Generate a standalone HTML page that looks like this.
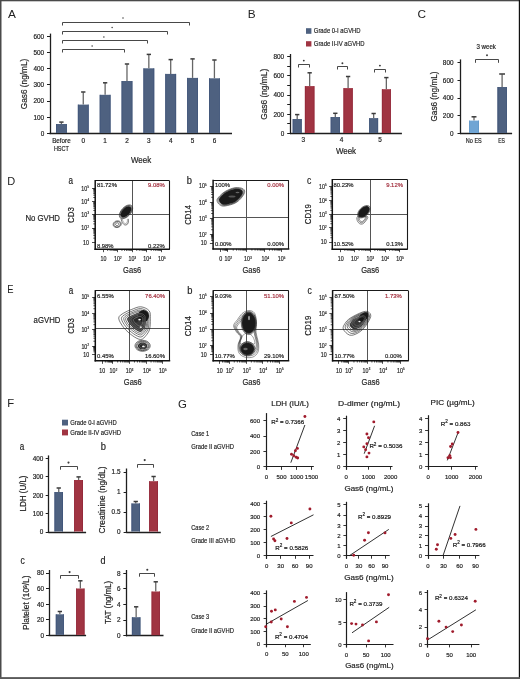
<!DOCTYPE html><html><head><meta charset="utf-8"><style>html,body{margin:0;padding:0;background:#fff;}svg{display:block;will-change:transform;font-family:"Liberation Sans", sans-serif;} text{stroke:currentColor;stroke-width:0.18px;}</style></head><body>
<svg width="520" height="679" viewBox="0 0 520 679">
<rect x="0" y="0" width="520" height="679" fill="#fff"/>
<text x="7.9" y="17.8" font-size="11.8" fill="#222" color="#222" style="stroke-width:0">A</text>
<line x1="50.5" y1="33.6" x2="50.5" y2="134.1" stroke="#1e1e1e" stroke-width="1.3"/>
<line x1="49.4" y1="133.5" x2="232" y2="133.5" stroke="#1e1e1e" stroke-width="1.3"/>
<line x1="47" y1="133.5" x2="50" y2="133.5" stroke="#1e1e1e" stroke-width="1"/>
<text x="44.2" y="135.8" font-size="6.4" fill="#222" color="#222" text-anchor="end">0</text>
<line x1="47" y1="117.5" x2="50" y2="117.5" stroke="#1e1e1e" stroke-width="1"/>
<text x="44.2" y="119.63" font-size="6.4" fill="#222" color="#222" text-anchor="end">100</text>
<line x1="47" y1="101.5" x2="50" y2="101.5" stroke="#1e1e1e" stroke-width="1"/>
<text x="44.2" y="103.47" font-size="6.4" fill="#222" color="#222" text-anchor="end">200</text>
<line x1="47" y1="84.5" x2="50" y2="84.5" stroke="#1e1e1e" stroke-width="1"/>
<text x="44.2" y="87.3" font-size="6.4" fill="#222" color="#222" text-anchor="end">300</text>
<line x1="47" y1="68.5" x2="50" y2="68.5" stroke="#1e1e1e" stroke-width="1"/>
<text x="44.2" y="71.13" font-size="6.4" fill="#222" color="#222" text-anchor="end">400</text>
<line x1="47" y1="52.5" x2="50" y2="52.5" stroke="#1e1e1e" stroke-width="1"/>
<text x="44.2" y="54.96" font-size="6.4" fill="#222" color="#222" text-anchor="end">500</text>
<line x1="47" y1="36.5" x2="50" y2="36.5" stroke="#1e1e1e" stroke-width="1"/>
<text x="44.2" y="38.8" font-size="6.4" fill="#222" color="#222" text-anchor="end">600</text>
<text transform="translate(27 84) rotate(-90)" font-size="8.4" fill="#222" color="#222" text-anchor="middle" textLength="50.5" lengthAdjust="spacingAndGlyphs">Gas6 (ng/mL)</text>
<line x1="61.4" y1="124" x2="61.4" y2="122.3" stroke="#666" stroke-width="1.3"/>
<line x1="59.25" y1="122.1" x2="63.55" y2="122.1" stroke="#3a3a3a" stroke-width="1.5"/>
<rect x="56" y="124" width="10.8" height="9" fill="#4e6180"/>
<rect x="56" y="124" width="0.8" height="9" fill="#40557a"/>
<rect x="66" y="124" width="0.8" height="9" fill="#40557a"/>
<line x1="83.26" y1="104.6" x2="83.26" y2="92.2" stroke="#666" stroke-width="1.3"/>
<line x1="81.11" y1="92" x2="85.41" y2="92" stroke="#3a3a3a" stroke-width="1.5"/>
<rect x="77.86" y="104.6" width="10.8" height="28.4" fill="#4e6180"/>
<rect x="77.86" y="104.6" width="0.8" height="28.4" fill="#40557a"/>
<rect x="87.86" y="104.6" width="0.8" height="28.4" fill="#40557a"/>
<line x1="105.12" y1="94.8" x2="105.12" y2="83" stroke="#666" stroke-width="1.3"/>
<line x1="102.97" y1="82.8" x2="107.27" y2="82.8" stroke="#3a3a3a" stroke-width="1.5"/>
<rect x="99.72" y="94.8" width="10.8" height="38.2" fill="#4e6180"/>
<rect x="99.72" y="94.8" width="0.8" height="38.2" fill="#40557a"/>
<rect x="109.72" y="94.8" width="0.8" height="38.2" fill="#40557a"/>
<line x1="126.98" y1="81" x2="126.98" y2="64.2" stroke="#666" stroke-width="1.3"/>
<line x1="124.83" y1="64" x2="129.13" y2="64" stroke="#3a3a3a" stroke-width="1.5"/>
<rect x="121.58" y="81" width="10.8" height="52" fill="#4e6180"/>
<rect x="121.58" y="81" width="0.8" height="52" fill="#40557a"/>
<rect x="131.58" y="81" width="0.8" height="52" fill="#40557a"/>
<line x1="148.84" y1="68.3" x2="148.84" y2="54.6" stroke="#666" stroke-width="1.3"/>
<line x1="146.69" y1="54.4" x2="150.99" y2="54.4" stroke="#3a3a3a" stroke-width="1.5"/>
<rect x="143.44" y="68.3" width="10.8" height="64.7" fill="#4e6180"/>
<rect x="143.44" y="68.3" width="0.8" height="64.7" fill="#40557a"/>
<rect x="153.44" y="68.3" width="0.8" height="64.7" fill="#40557a"/>
<line x1="170.7" y1="73.9" x2="170.7" y2="59.8" stroke="#666" stroke-width="1.3"/>
<line x1="168.55" y1="59.6" x2="172.85" y2="59.6" stroke="#3a3a3a" stroke-width="1.5"/>
<rect x="165.3" y="73.9" width="10.8" height="59.1" fill="#4e6180"/>
<rect x="165.3" y="73.9" width="0.8" height="59.1" fill="#40557a"/>
<rect x="175.3" y="73.9" width="0.8" height="59.1" fill="#40557a"/>
<line x1="192.56" y1="77.9" x2="192.56" y2="59.1" stroke="#666" stroke-width="1.3"/>
<line x1="190.41" y1="58.9" x2="194.71" y2="58.9" stroke="#3a3a3a" stroke-width="1.5"/>
<rect x="187.16" y="77.9" width="10.8" height="55.1" fill="#4e6180"/>
<rect x="187.16" y="77.9" width="0.8" height="55.1" fill="#40557a"/>
<rect x="197.16" y="77.9" width="0.8" height="55.1" fill="#40557a"/>
<line x1="214.42" y1="78.3" x2="214.42" y2="60.2" stroke="#666" stroke-width="1.3"/>
<line x1="212.27" y1="60" x2="216.57" y2="60" stroke="#3a3a3a" stroke-width="1.5"/>
<rect x="209.02" y="78.3" width="10.8" height="54.7" fill="#4e6180"/>
<rect x="209.02" y="78.3" width="0.8" height="54.7" fill="#40557a"/>
<rect x="219.02" y="78.3" width="0.8" height="54.7" fill="#40557a"/>
<text x="61.4" y="143.1" font-size="6.4" fill="#222" color="#222" text-anchor="middle" textLength="18.5" lengthAdjust="spacingAndGlyphs">Before</text>
<text x="61.4" y="151.3" font-size="6.4" fill="#222" color="#222" text-anchor="middle" textLength="15" lengthAdjust="spacingAndGlyphs">HSCT</text>
<text x="83.26" y="143.1" font-size="6.4" fill="#222" color="#222" text-anchor="middle">0</text>
<text x="105.12" y="143.1" font-size="6.4" fill="#222" color="#222" text-anchor="middle">1</text>
<text x="126.98" y="143.1" font-size="6.4" fill="#222" color="#222" text-anchor="middle">2</text>
<text x="148.84" y="143.1" font-size="6.4" fill="#222" color="#222" text-anchor="middle">3</text>
<text x="170.7" y="143.1" font-size="6.4" fill="#222" color="#222" text-anchor="middle">4</text>
<text x="192.56" y="143.1" font-size="6.4" fill="#222" color="#222" text-anchor="middle">5</text>
<text x="214.42" y="143.1" font-size="6.4" fill="#222" color="#222" text-anchor="middle">6</text>
<text x="141.1" y="162.9" font-size="8.9" fill="#222" color="#222" text-anchor="middle" textLength="20.2" lengthAdjust="spacingAndGlyphs">Week</text>
<path d="M62.5 25.5V22.5H189.5V25.5" stroke="#333" stroke-width="0.9" fill="none"/>
<path d="M62.5 34.5V31.5H167.5V34.5" stroke="#333" stroke-width="0.9" fill="none"/>
<path d="M62.5 43.5V40.5H147.5V43.5" stroke="#333" stroke-width="0.9" fill="none"/>
<path d="M62.5 52.5V49.5H124.5V52.5" stroke="#333" stroke-width="0.9" fill="none"/>
<circle cx="123" cy="17.9" r="0.75" fill="#3a3a3a"/>
<circle cx="112.1" cy="27.6" r="0.75" fill="#3a3a3a"/>
<circle cx="103.9" cy="36.9" r="0.75" fill="#3a3a3a"/>
<circle cx="92.1" cy="45.9" r="0.75" fill="#3a3a3a"/>
<text x="247.7" y="17.8" font-size="11.8" fill="#222" color="#222" style="stroke-width:0">B</text>
<rect x="306" y="28.2" width="5.4" height="5.6" fill="#4e6180"/>
<rect x="306" y="41.2" width="5.4" height="5.3" fill="#a03442"/>
<text x="313.8" y="33.4" font-size="7" fill="#222" color="#222" textLength="46.8" lengthAdjust="spacingAndGlyphs">Grade 0-I aGVHD</text>
<text x="313.8" y="46.4" font-size="7" fill="#222" color="#222" textLength="50.8" lengthAdjust="spacingAndGlyphs">Grade II-IV aGVHD</text>
<line x1="290.5" y1="54" x2="290.5" y2="134.1" stroke="#1e1e1e" stroke-width="1.3"/>
<line x1="290" y1="133.5" x2="401.9" y2="133.5" stroke="#1e1e1e" stroke-width="1.3"/>
<line x1="287.2" y1="133.5" x2="290.6" y2="133.5" stroke="#1e1e1e" stroke-width="1"/>
<text x="284.2" y="135.8" font-size="6.4" fill="#222" color="#222" text-anchor="end">0</text>
<line x1="287.2" y1="123.5" x2="290.6" y2="123.5" stroke="#1e1e1e" stroke-width="1"/>
<line x1="287.2" y1="114.5" x2="290.6" y2="114.5" stroke="#1e1e1e" stroke-width="1"/>
<text x="284.2" y="116.57" font-size="6.4" fill="#222" color="#222" text-anchor="end">200</text>
<line x1="287.2" y1="104.5" x2="290.6" y2="104.5" stroke="#1e1e1e" stroke-width="1"/>
<line x1="287.2" y1="95.5" x2="290.6" y2="95.5" stroke="#1e1e1e" stroke-width="1"/>
<text x="284.2" y="97.34" font-size="6.4" fill="#222" color="#222" text-anchor="end">400</text>
<line x1="287.2" y1="85.5" x2="290.6" y2="85.5" stroke="#1e1e1e" stroke-width="1"/>
<line x1="287.2" y1="75.5" x2="290.6" y2="75.5" stroke="#1e1e1e" stroke-width="1"/>
<text x="284.2" y="78.11" font-size="6.4" fill="#222" color="#222" text-anchor="end">600</text>
<line x1="287.2" y1="66.5" x2="290.6" y2="66.5" stroke="#1e1e1e" stroke-width="1"/>
<line x1="287.2" y1="56.5" x2="290.6" y2="56.5" stroke="#1e1e1e" stroke-width="1"/>
<text x="284.2" y="58.88" font-size="6.4" fill="#222" color="#222" text-anchor="end">800</text>
<text transform="translate(267.4 94.3) rotate(-90)" font-size="8.4" fill="#222" color="#222" text-anchor="middle" textLength="51" lengthAdjust="spacingAndGlyphs">Gas6 (ng/mL)</text>
<line x1="297.2" y1="119" x2="297.2" y2="114.8" stroke="#666" stroke-width="1.3"/>
<line x1="295.05" y1="114.6" x2="299.35" y2="114.6" stroke="#3a3a3a" stroke-width="1.5"/>
<rect x="292.7" y="119" width="9" height="14" fill="#4e6180"/>
<rect x="292.7" y="119" width="0.8" height="14" fill="#40557a"/>
<rect x="300.9" y="119" width="0.8" height="14" fill="#40557a"/>
<line x1="309.65" y1="86.1" x2="309.65" y2="73" stroke="#666" stroke-width="1.3"/>
<line x1="307.5" y1="72.8" x2="311.8" y2="72.8" stroke="#3a3a3a" stroke-width="1.5"/>
<rect x="304.9" y="86.1" width="9.5" height="46.9" fill="#a03442"/>
<rect x="304.9" y="86.1" width="0.8" height="46.9" fill="#93283a"/>
<rect x="313.6" y="86.1" width="0.8" height="46.9" fill="#93283a"/>
<path d="M298.5 67.5V64.5H309.5V67.5" stroke="#333" stroke-width="0.9" fill="none"/>
<circle cx="303.8" cy="60.6" r="0.95" fill="#3a3a3a"/>
<text x="303.3" y="141.6" font-size="6.4" fill="#222" color="#222" text-anchor="middle">3</text>
<line x1="335.3" y1="117" x2="335.3" y2="113.5" stroke="#666" stroke-width="1.3"/>
<line x1="333.15" y1="113.3" x2="337.45" y2="113.3" stroke="#3a3a3a" stroke-width="1.5"/>
<rect x="330.7" y="117" width="9.2" height="16" fill="#4e6180"/>
<rect x="330.7" y="117" width="0.8" height="16" fill="#40557a"/>
<rect x="339.1" y="117" width="0.8" height="16" fill="#40557a"/>
<line x1="348.1" y1="88.1" x2="348.1" y2="76.7" stroke="#666" stroke-width="1.3"/>
<line x1="345.95" y1="76.5" x2="350.25" y2="76.5" stroke="#3a3a3a" stroke-width="1.5"/>
<rect x="343.5" y="88.1" width="9.2" height="44.9" fill="#a03442"/>
<rect x="343.5" y="88.1" width="0.8" height="44.9" fill="#93283a"/>
<rect x="351.9" y="88.1" width="0.8" height="44.9" fill="#93283a"/>
<path d="M337.5 69.5V66.5H347.5V69.5" stroke="#333" stroke-width="0.9" fill="none"/>
<circle cx="342.4" cy="63.3" r="0.95" fill="#3a3a3a"/>
<text x="341.5" y="141.6" font-size="6.4" fill="#222" color="#222" text-anchor="middle">4</text>
<line x1="373.65" y1="118.1" x2="373.65" y2="113.7" stroke="#666" stroke-width="1.3"/>
<line x1="371.5" y1="113.5" x2="375.8" y2="113.5" stroke="#3a3a3a" stroke-width="1.5"/>
<rect x="369.2" y="118.1" width="8.9" height="14.9" fill="#4e6180"/>
<rect x="369.2" y="118.1" width="0.8" height="14.9" fill="#40557a"/>
<rect x="377.3" y="118.1" width="0.8" height="14.9" fill="#40557a"/>
<line x1="386.35" y1="89.2" x2="386.35" y2="77.8" stroke="#666" stroke-width="1.3"/>
<line x1="384.2" y1="77.6" x2="388.5" y2="77.6" stroke="#3a3a3a" stroke-width="1.5"/>
<rect x="381.9" y="89.2" width="8.9" height="43.8" fill="#a03442"/>
<rect x="381.9" y="89.2" width="0.8" height="43.8" fill="#93283a"/>
<rect x="390" y="89.2" width="0.8" height="43.8" fill="#93283a"/>
<path d="M374.5 72.5V69.5H385.5V72.5" stroke="#333" stroke-width="0.9" fill="none"/>
<circle cx="379.9" cy="65.6" r="0.95" fill="#3a3a3a"/>
<text x="380" y="141.6" font-size="6.4" fill="#222" color="#222" text-anchor="middle">5</text>
<text x="346" y="153.6" font-size="8.9" fill="#222" color="#222" text-anchor="middle" textLength="20.2" lengthAdjust="spacingAndGlyphs">Week</text>
<text x="417.4" y="18.2" font-size="11.8" fill="#222" color="#222" style="stroke-width:0">C</text>
<line x1="460.5" y1="59.4" x2="460.5" y2="134.1" stroke="#1e1e1e" stroke-width="1.3"/>
<line x1="460" y1="133.5" x2="512.1" y2="133.5" stroke="#1e1e1e" stroke-width="1.3"/>
<line x1="457.5" y1="133.5" x2="460.6" y2="133.5" stroke="#1e1e1e" stroke-width="1"/>
<text x="453.5" y="135.8" font-size="6.4" fill="#222" color="#222" text-anchor="end">0</text>
<line x1="457.5" y1="115.5" x2="460.6" y2="115.5" stroke="#1e1e1e" stroke-width="1"/>
<text x="453.5" y="118.09" font-size="6.4" fill="#222" color="#222" text-anchor="end">200</text>
<line x1="457.5" y1="98.5" x2="460.6" y2="98.5" stroke="#1e1e1e" stroke-width="1"/>
<text x="453.5" y="100.38" font-size="6.4" fill="#222" color="#222" text-anchor="end">400</text>
<line x1="457.5" y1="80.5" x2="460.6" y2="80.5" stroke="#1e1e1e" stroke-width="1"/>
<text x="453.5" y="82.68" font-size="6.4" fill="#222" color="#222" text-anchor="end">600</text>
<line x1="457.5" y1="62.5" x2="460.6" y2="62.5" stroke="#1e1e1e" stroke-width="1"/>
<text x="453.5" y="64.97" font-size="6.4" fill="#222" color="#222" text-anchor="end">800</text>
<text transform="translate(437.3 96.5) rotate(-90)" font-size="8.4" fill="#222" color="#222" text-anchor="middle" textLength="50" lengthAdjust="spacingAndGlyphs">Gas6 (ng/mL)</text>
<line x1="474" y1="120.6" x2="474" y2="117" stroke="#666" stroke-width="1.3"/>
<line x1="471.55" y1="116.8" x2="476.45" y2="116.8" stroke="#3a3a3a" stroke-width="1.5"/>
<rect x="469.2" y="120.6" width="9.7" height="12.4" fill="#70a5d4"/>
<rect x="469.2" y="120.6" width="0.8" height="12.4" fill="#5f97c8"/>
<rect x="478.1" y="120.6" width="0.8" height="12.4" fill="#5f97c8"/>
<line x1="502.1" y1="87" x2="502.1" y2="74.2" stroke="#666" stroke-width="1.3"/>
<line x1="499.2" y1="74" x2="505" y2="74" stroke="#3a3a3a" stroke-width="1.5"/>
<rect x="497.5" y="87" width="9.3" height="46" fill="#4e6180"/>
<rect x="497.5" y="87" width="0.8" height="46" fill="#3d5276"/>
<rect x="506" y="87" width="0.8" height="46" fill="#3d5276"/>
<path d="M475.5 62.8V59.5H498.5V62.8" stroke="#333" stroke-width="0.9" fill="none"/>
<circle cx="487" cy="55.2" r="0.95" fill="#3a3a3a"/>
<text x="486.2" y="49.3" font-size="6.4" fill="#222" color="#222" text-anchor="middle" textLength="19.4" lengthAdjust="spacingAndGlyphs">3 week</text>
<text x="473.8" y="142.9" font-size="6.4" fill="#222" color="#222" text-anchor="middle" textLength="15.9" lengthAdjust="spacingAndGlyphs">No ES</text>
<text x="501.6" y="142.9" font-size="6.4" fill="#222" color="#222" text-anchor="middle" textLength="6.8" lengthAdjust="spacingAndGlyphs">ES</text>
<text x="7.2" y="184.8" font-size="11" fill="#222" color="#222" style="stroke-width:0">D</text>
<text x="25.4" y="220.8" font-size="8.5" fill="#222" color="#222" textLength="34.6" lengthAdjust="spacingAndGlyphs">No GVHD</text>
<text x="7.2" y="292.5" font-size="11" fill="#222" color="#222" textLength="6.3" lengthAdjust="spacingAndGlyphs" style="stroke-width:0">E</text>
<text x="33.6" y="323.2" font-size="8.8" fill="#222" color="#222" textLength="26.8" lengthAdjust="spacingAndGlyphs">aGVHD</text>
<line x1="132.5" y1="180.6" x2="132.5" y2="249.2" stroke="#555" stroke-width="1"/>
<line x1="95.2" y1="214.5" x2="169.4" y2="214.5" stroke="#555" stroke-width="1"/>
<line x1="95.2" y1="180.5" x2="169.4" y2="180.5" stroke="#1a1a1a" stroke-width="1.1"/>
<line x1="169.5" y1="180.6" x2="169.5" y2="249.2" stroke="#1a1a1a" stroke-width="1.1"/>
<line x1="95.2" y1="180.1" x2="95.2" y2="249.9" stroke="#111" stroke-width="1.5"/>
<line x1="94.5" y1="249.2" x2="169.9" y2="249.2" stroke="#111" stroke-width="1.5"/>
<line x1="103.5" y1="249.2" x2="103.5" y2="252.2" stroke="#111" stroke-width="0.75"/>
<line x1="107.68" y1="249.2" x2="107.68" y2="250.9" stroke="#111" stroke-width="0.75"/>
<line x1="110.13" y1="249.2" x2="110.13" y2="250.9" stroke="#111" stroke-width="0.75"/>
<line x1="111.87" y1="249.2" x2="111.87" y2="250.9" stroke="#111" stroke-width="0.75"/>
<line x1="113.22" y1="249.2" x2="113.22" y2="250.9" stroke="#111" stroke-width="0.75"/>
<line x1="114.32" y1="249.2" x2="114.32" y2="250.9" stroke="#111" stroke-width="0.75"/>
<line x1="115.25" y1="249.2" x2="115.25" y2="250.9" stroke="#111" stroke-width="0.75"/>
<line x1="116.05" y1="249.2" x2="116.05" y2="250.9" stroke="#111" stroke-width="0.75"/>
<line x1="116.76" y1="249.2" x2="116.76" y2="250.9" stroke="#111" stroke-width="0.75"/>
<line x1="117.5" y1="249.2" x2="117.5" y2="252.2" stroke="#111" stroke-width="0.75"/>
<line x1="121.95" y1="249.2" x2="121.95" y2="250.9" stroke="#111" stroke-width="0.75"/>
<line x1="124.6" y1="249.2" x2="124.6" y2="250.9" stroke="#111" stroke-width="0.75"/>
<line x1="126.49" y1="249.2" x2="126.49" y2="250.9" stroke="#111" stroke-width="0.75"/>
<line x1="127.95" y1="249.2" x2="127.95" y2="250.9" stroke="#111" stroke-width="0.75"/>
<line x1="129.15" y1="249.2" x2="129.15" y2="250.9" stroke="#111" stroke-width="0.75"/>
<line x1="130.16" y1="249.2" x2="130.16" y2="250.9" stroke="#111" stroke-width="0.75"/>
<line x1="131.04" y1="249.2" x2="131.04" y2="250.9" stroke="#111" stroke-width="0.75"/>
<line x1="131.81" y1="249.2" x2="131.81" y2="250.9" stroke="#111" stroke-width="0.75"/>
<line x1="132.5" y1="249.2" x2="132.5" y2="252.2" stroke="#111" stroke-width="0.75"/>
<line x1="136.77" y1="249.2" x2="136.77" y2="250.9" stroke="#111" stroke-width="0.75"/>
<line x1="139.28" y1="249.2" x2="139.28" y2="250.9" stroke="#111" stroke-width="0.75"/>
<line x1="141.05" y1="249.2" x2="141.05" y2="250.9" stroke="#111" stroke-width="0.75"/>
<line x1="142.43" y1="249.2" x2="142.43" y2="250.9" stroke="#111" stroke-width="0.75"/>
<line x1="143.55" y1="249.2" x2="143.55" y2="250.9" stroke="#111" stroke-width="0.75"/>
<line x1="144.5" y1="249.2" x2="144.5" y2="250.9" stroke="#111" stroke-width="0.75"/>
<line x1="145.32" y1="249.2" x2="145.32" y2="250.9" stroke="#111" stroke-width="0.75"/>
<line x1="146.05" y1="249.2" x2="146.05" y2="250.9" stroke="#111" stroke-width="0.75"/>
<line x1="146.5" y1="249.2" x2="146.5" y2="252.2" stroke="#111" stroke-width="0.75"/>
<line x1="151.19" y1="249.2" x2="151.19" y2="250.9" stroke="#111" stroke-width="0.75"/>
<line x1="153.81" y1="249.2" x2="153.81" y2="250.9" stroke="#111" stroke-width="0.75"/>
<line x1="155.67" y1="249.2" x2="155.67" y2="250.9" stroke="#111" stroke-width="0.75"/>
<line x1="157.11" y1="249.2" x2="157.11" y2="250.9" stroke="#111" stroke-width="0.75"/>
<line x1="158.29" y1="249.2" x2="158.29" y2="250.9" stroke="#111" stroke-width="0.75"/>
<line x1="159.29" y1="249.2" x2="159.29" y2="250.9" stroke="#111" stroke-width="0.75"/>
<line x1="160.16" y1="249.2" x2="160.16" y2="250.9" stroke="#111" stroke-width="0.75"/>
<line x1="160.92" y1="249.2" x2="160.92" y2="250.9" stroke="#111" stroke-width="0.75"/>
<line x1="161.5" y1="249.2" x2="161.5" y2="252.2" stroke="#111" stroke-width="0.75"/>
<line x1="95.2" y1="242.5" x2="92" y2="242.5" stroke="#111" stroke-width="0.75"/>
<line x1="95.2" y1="238.14" x2="93.3" y2="238.14" stroke="#111" stroke-width="0.75"/>
<line x1="95.2" y1="235.58" x2="93.3" y2="235.58" stroke="#111" stroke-width="0.75"/>
<line x1="95.2" y1="233.77" x2="93.3" y2="233.77" stroke="#111" stroke-width="0.75"/>
<line x1="95.2" y1="232.36" x2="93.3" y2="232.36" stroke="#111" stroke-width="0.75"/>
<line x1="95.2" y1="231.22" x2="93.3" y2="231.22" stroke="#111" stroke-width="0.75"/>
<line x1="95.2" y1="230.25" x2="93.3" y2="230.25" stroke="#111" stroke-width="0.75"/>
<line x1="95.2" y1="229.41" x2="93.3" y2="229.41" stroke="#111" stroke-width="0.75"/>
<line x1="95.2" y1="228.66" x2="93.3" y2="228.66" stroke="#111" stroke-width="0.75"/>
<line x1="95.2" y1="228.5" x2="92" y2="228.5" stroke="#111" stroke-width="0.75"/>
<line x1="95.2" y1="223.88" x2="93.3" y2="223.88" stroke="#111" stroke-width="0.75"/>
<line x1="95.2" y1="221.46" x2="93.3" y2="221.46" stroke="#111" stroke-width="0.75"/>
<line x1="95.2" y1="219.75" x2="93.3" y2="219.75" stroke="#111" stroke-width="0.75"/>
<line x1="95.2" y1="218.42" x2="93.3" y2="218.42" stroke="#111" stroke-width="0.75"/>
<line x1="95.2" y1="217.34" x2="93.3" y2="217.34" stroke="#111" stroke-width="0.75"/>
<line x1="95.2" y1="216.42" x2="93.3" y2="216.42" stroke="#111" stroke-width="0.75"/>
<line x1="95.2" y1="215.63" x2="93.3" y2="215.63" stroke="#111" stroke-width="0.75"/>
<line x1="95.2" y1="214.93" x2="93.3" y2="214.93" stroke="#111" stroke-width="0.75"/>
<line x1="95.2" y1="214.5" x2="92" y2="214.5" stroke="#111" stroke-width="0.75"/>
<line x1="95.2" y1="210.45" x2="93.3" y2="210.45" stroke="#111" stroke-width="0.75"/>
<line x1="95.2" y1="208.19" x2="93.3" y2="208.19" stroke="#111" stroke-width="0.75"/>
<line x1="95.2" y1="206.59" x2="93.3" y2="206.59" stroke="#111" stroke-width="0.75"/>
<line x1="95.2" y1="205.35" x2="93.3" y2="205.35" stroke="#111" stroke-width="0.75"/>
<line x1="95.2" y1="204.34" x2="93.3" y2="204.34" stroke="#111" stroke-width="0.75"/>
<line x1="95.2" y1="203.48" x2="93.3" y2="203.48" stroke="#111" stroke-width="0.75"/>
<line x1="95.2" y1="202.74" x2="93.3" y2="202.74" stroke="#111" stroke-width="0.75"/>
<line x1="95.2" y1="202.09" x2="93.3" y2="202.09" stroke="#111" stroke-width="0.75"/>
<line x1="95.2" y1="201.5" x2="92" y2="201.5" stroke="#111" stroke-width="0.75"/>
<line x1="95.2" y1="197.5" x2="93.3" y2="197.5" stroke="#111" stroke-width="0.75"/>
<line x1="95.2" y1="195.15" x2="93.3" y2="195.15" stroke="#111" stroke-width="0.75"/>
<line x1="95.2" y1="193.49" x2="93.3" y2="193.49" stroke="#111" stroke-width="0.75"/>
<line x1="95.2" y1="192.2" x2="93.3" y2="192.2" stroke="#111" stroke-width="0.75"/>
<line x1="95.2" y1="191.15" x2="93.3" y2="191.15" stroke="#111" stroke-width="0.75"/>
<line x1="95.2" y1="190.26" x2="93.3" y2="190.26" stroke="#111" stroke-width="0.75"/>
<line x1="95.2" y1="189.49" x2="93.3" y2="189.49" stroke="#111" stroke-width="0.75"/>
<line x1="95.2" y1="188.81" x2="93.3" y2="188.81" stroke="#111" stroke-width="0.75"/>
<line x1="95.2" y1="188.5" x2="92" y2="188.5" stroke="#111" stroke-width="0.75"/>
<text x="100.55" y="261.35" font-size="6.6" fill="#222" color="#222" textLength="5.9" lengthAdjust="spacingAndGlyphs">10</text>
<text x="114" y="261.35" font-size="6.6" fill="#222" color="#222" textLength="5.9" lengthAdjust="spacingAndGlyphs">10</text>
<text x="120.1" y="258.9" font-size="3.4" fill="#222" color="#222" textLength="1.6" lengthAdjust="spacingAndGlyphs">2</text>
<text x="128.5" y="261.35" font-size="6.6" fill="#222" color="#222" textLength="5.9" lengthAdjust="spacingAndGlyphs">10</text>
<text x="134.6" y="258.9" font-size="3.4" fill="#222" color="#222" textLength="1.6" lengthAdjust="spacingAndGlyphs">3</text>
<text x="143.3" y="261.35" font-size="6.6" fill="#222" color="#222" textLength="5.9" lengthAdjust="spacingAndGlyphs">10</text>
<text x="149.4" y="258.9" font-size="3.4" fill="#222" color="#222" textLength="1.6" lengthAdjust="spacingAndGlyphs">4</text>
<text x="158" y="261.35" font-size="6.6" fill="#222" color="#222" textLength="5.9" lengthAdjust="spacingAndGlyphs">10</text>
<text x="164.1" y="258.9" font-size="3.4" fill="#222" color="#222" textLength="1.6" lengthAdjust="spacingAndGlyphs">5</text>
<text x="83.1" y="244.85" font-size="6.6" fill="#222" color="#222" textLength="5.9" lengthAdjust="spacingAndGlyphs">10</text>
<text x="81.3" y="230.35" font-size="6.6" fill="#222" color="#222" textLength="5.9" lengthAdjust="spacingAndGlyphs">10</text>
<text x="87.4" y="227.9" font-size="3.4" fill="#222" color="#222" textLength="1.6" lengthAdjust="spacingAndGlyphs">2</text>
<text x="81.3" y="216.65" font-size="6.6" fill="#222" color="#222" textLength="5.9" lengthAdjust="spacingAndGlyphs">10</text>
<text x="87.4" y="214.2" font-size="3.4" fill="#222" color="#222" textLength="1.6" lengthAdjust="spacingAndGlyphs">3</text>
<text x="81.3" y="203.85" font-size="6.6" fill="#222" color="#222" textLength="5.9" lengthAdjust="spacingAndGlyphs">10</text>
<text x="87.4" y="201.4" font-size="3.4" fill="#222" color="#222" textLength="1.6" lengthAdjust="spacingAndGlyphs">4</text>
<text x="81.3" y="190.55" font-size="6.6" fill="#222" color="#222" textLength="5.9" lengthAdjust="spacingAndGlyphs">10</text>
<text x="87.4" y="188.1" font-size="3.4" fill="#222" color="#222" textLength="1.6" lengthAdjust="spacingAndGlyphs">5</text>
<text x="68.6" y="183.7" font-size="10" fill="#222" color="#222" textLength="4.5" lengthAdjust="spacingAndGlyphs">a</text>
<text transform="translate(73.9 215) rotate(-90)" font-size="9.6" fill="#222" color="#222" text-anchor="middle" textLength="15.8" lengthAdjust="spacingAndGlyphs">CD3</text>
<text x="123.1" y="273.1" font-size="9.2" fill="#222" color="#222" textLength="18" lengthAdjust="spacingAndGlyphs">Gas6</text>
<text x="96.9" y="186.9" font-size="5.9" fill="#1e1e1e" color="#1e1e1e">81.72%</text>
<text x="164.8" y="186.9" font-size="5.9" fill="#a3303f" color="#a3303f" text-anchor="end">9.08%</text>
<text x="96.9" y="248.1" font-size="5.9" fill="#1e1e1e" color="#1e1e1e">8.98%</text>
<text x="164.8" y="248.1" font-size="5.9" fill="#1e1e1e" color="#1e1e1e" text-anchor="end">0.22%</text>
<path d="M130.58 206.89C131.04 207.31 131.33 208.05 131.34 208.83C131.36 209.61 131.11 210.64 130.67 211.56C130.24 212.49 129.51 213.55 128.75 214.36C127.99 215.18 126.98 215.98 126.09 216.48C125.2 216.97 124.18 217.3 123.41 217.34C122.63 217.38 121.88 217.14 121.42 216.71C120.96 216.29 120.67 215.55 120.66 214.77C120.64 213.99 120.89 212.96 121.33 212.04C121.76 211.11 122.49 210.05 123.25 209.24C124.01 208.42 125.02 207.62 125.91 207.12C126.8 206.63 127.82 206.3 128.59 206.26C129.37 206.22 130.12 206.46 130.58 206.89Z" fill="#1a1a1a"/>
<path d="M131.73 205.66C132.3 206.19 132.66 207.11 132.68 208.08C132.7 209.06 132.38 210.35 131.84 211.5C131.3 212.66 130.39 213.98 129.44 215.01C128.48 216.03 127.23 217.03 126.11 217.65C125 218.27 123.73 218.67 122.76 218.72C121.78 218.77 120.84 218.48 120.27 217.94C119.7 217.41 119.34 216.49 119.32 215.52C119.3 214.54 119.62 213.25 120.16 212.1C120.7 210.94 121.61 209.62 122.56 208.59C123.52 207.57 124.77 206.57 125.89 205.95C127 205.33 128.27 204.93 129.24 204.88C130.22 204.83 131.16 205.12 131.73 205.66Z" stroke="#2a2a2a" stroke-width="0.6" fill="none"/>
<path d="M131.21 206.21C131.73 206.7 132.06 207.53 132.08 208.42C132.1 209.3 131.81 210.48 131.32 211.53C130.82 212.58 130 213.79 129.13 214.72C128.26 215.65 127.12 216.56 126.1 217.12C125.09 217.69 123.94 218.06 123.05 218.1C122.16 218.14 121.31 217.88 120.79 217.39C120.27 216.9 119.94 216.07 119.92 215.18C119.9 214.3 120.19 213.12 120.68 212.07C121.18 211.02 122 209.81 122.87 208.88C123.74 207.95 124.88 207.04 125.9 206.48C126.91 205.91 128.06 205.54 128.95 205.5C129.84 205.46 130.69 205.72 131.21 206.21Z" stroke="#2a2a2a" stroke-width="0.6" fill="none"/>
<path d="M130.7 206.76C131.17 207.2 131.46 207.95 131.48 208.75C131.49 209.55 131.23 210.61 130.79 211.56C130.35 212.5 129.6 213.59 128.82 214.43C128.04 215.27 127.01 216.09 126.09 216.6C125.18 217.1 124.14 217.44 123.34 217.48C122.54 217.52 121.77 217.28 121.3 216.84C120.83 216.4 120.54 215.65 120.52 214.85C120.51 214.05 120.77 212.99 121.21 212.04C121.65 211.1 122.4 210.01 123.18 209.17C123.96 208.33 124.99 207.51 125.91 207C126.82 206.5 127.86 206.16 128.66 206.12C129.46 206.08 130.23 206.32 130.7 206.76Z" stroke="#2a2a2a" stroke-width="0.6" fill="none"/>
<path d="M121.16 223.14C121.3 223.67 121.26 224.33 121.06 224.87C120.85 225.42 120.42 226.01 119.92 226.43C119.42 226.85 118.71 227.21 118.05 227.39C117.39 227.56 116.6 227.6 115.96 227.49C115.32 227.38 114.65 227.08 114.2 226.71C113.74 226.34 113.38 225.79 113.24 225.26C113.1 224.73 113.14 224.07 113.34 223.53C113.55 222.98 113.98 222.39 114.48 221.97C114.98 221.55 115.69 221.19 116.35 221.01C117.01 220.84 117.8 220.8 118.44 220.91C119.08 221.02 119.75 221.32 120.2 221.69C120.66 222.06 121.02 222.61 121.16 223.14Z" stroke="#222" stroke-width="0.6" fill="none"/>
<path d="M120.37 223.35C120.48 223.78 120.45 224.3 120.29 224.74C120.12 225.18 119.78 225.65 119.38 225.98C118.98 226.32 118.41 226.61 117.88 226.75C117.36 226.89 116.72 226.92 116.21 226.83C115.69 226.74 115.16 226.51 114.8 226.21C114.44 225.91 114.15 225.47 114.03 225.05C113.92 224.62 113.95 224.1 114.11 223.66C114.28 223.22 114.62 222.75 115.02 222.42C115.42 222.08 115.99 221.79 116.52 221.65C117.04 221.51 117.68 221.48 118.19 221.57C118.71 221.66 119.24 221.89 119.6 222.19C119.96 222.49 120.25 222.93 120.37 223.35Z" stroke="#222" stroke-width="0.6" fill="none"/>
<path d="M118.86 223.75C118.92 223.98 118.91 224.25 118.82 224.48C118.73 224.71 118.55 224.96 118.34 225.14C118.13 225.31 117.84 225.46 117.56 225.54C117.28 225.61 116.95 225.63 116.68 225.58C116.41 225.54 116.13 225.41 115.94 225.26C115.75 225.1 115.6 224.87 115.54 224.65C115.48 224.42 115.49 224.15 115.58 223.92C115.67 223.69 115.85 223.44 116.06 223.26C116.27 223.09 116.56 222.94 116.84 222.86C117.12 222.79 117.45 222.77 117.72 222.82C117.99 222.86 118.27 222.99 118.46 223.14C118.65 223.3 118.8 223.53 118.86 223.75Z" stroke="#222" stroke-width="0.6" fill="none"/>
<path d="M121.0 218.6C121.8 222.5 123.5 225.3 126.0 225.0C128.4 224.5 128.8 221.5 128.2 218.8" stroke="#222" stroke-width="0.6" fill="none"/>
<path d="M122.2 219.0C122.9 222 124.2 223.8 125.9 223.6C127.4 223.1 127.6 221 127.3 219.2" stroke="#555" stroke-width="0.45" fill="none"/>
<line x1="246.5" y1="180.2" x2="246.5" y2="248.9" stroke="#555" stroke-width="1"/>
<line x1="213.1" y1="217.5" x2="288.8" y2="217.5" stroke="#555" stroke-width="1"/>
<line x1="213.1" y1="180.5" x2="288.8" y2="180.5" stroke="#1a1a1a" stroke-width="1.1"/>
<line x1="288.5" y1="180.2" x2="288.5" y2="248.9" stroke="#1a1a1a" stroke-width="1.1"/>
<line x1="213.1" y1="179.7" x2="213.1" y2="249.6" stroke="#111" stroke-width="1.5"/>
<line x1="212.4" y1="248.9" x2="289.3" y2="248.9" stroke="#111" stroke-width="1.5"/>
<line x1="220.5" y1="248.9" x2="220.5" y2="251.9" stroke="#111" stroke-width="0.75"/>
<line x1="222.82" y1="248.9" x2="222.82" y2="250.6" stroke="#111" stroke-width="0.75"/>
<line x1="224" y1="248.9" x2="224" y2="250.6" stroke="#111" stroke-width="0.75"/>
<line x1="224.83" y1="248.9" x2="224.83" y2="250.6" stroke="#111" stroke-width="0.75"/>
<line x1="225.48" y1="248.9" x2="225.48" y2="250.6" stroke="#111" stroke-width="0.75"/>
<line x1="226.01" y1="248.9" x2="226.01" y2="250.6" stroke="#111" stroke-width="0.75"/>
<line x1="226.46" y1="248.9" x2="226.46" y2="250.6" stroke="#111" stroke-width="0.75"/>
<line x1="226.85" y1="248.9" x2="226.85" y2="250.6" stroke="#111" stroke-width="0.75"/>
<line x1="227.19" y1="248.9" x2="227.19" y2="250.6" stroke="#111" stroke-width="0.75"/>
<line x1="227.5" y1="248.9" x2="227.5" y2="251.9" stroke="#111" stroke-width="0.75"/>
<line x1="233.22" y1="248.9" x2="233.22" y2="250.6" stroke="#111" stroke-width="0.75"/>
<line x1="236.57" y1="248.9" x2="236.57" y2="250.6" stroke="#111" stroke-width="0.75"/>
<line x1="238.94" y1="248.9" x2="238.94" y2="250.6" stroke="#111" stroke-width="0.75"/>
<line x1="240.78" y1="248.9" x2="240.78" y2="250.6" stroke="#111" stroke-width="0.75"/>
<line x1="242.28" y1="248.9" x2="242.28" y2="250.6" stroke="#111" stroke-width="0.75"/>
<line x1="243.56" y1="248.9" x2="243.56" y2="250.6" stroke="#111" stroke-width="0.75"/>
<line x1="244.66" y1="248.9" x2="244.66" y2="250.6" stroke="#111" stroke-width="0.75"/>
<line x1="245.63" y1="248.9" x2="245.63" y2="250.6" stroke="#111" stroke-width="0.75"/>
<line x1="246.5" y1="248.9" x2="246.5" y2="251.9" stroke="#111" stroke-width="0.75"/>
<line x1="251.92" y1="248.9" x2="251.92" y2="250.6" stroke="#111" stroke-width="0.75"/>
<line x1="255.09" y1="248.9" x2="255.09" y2="250.6" stroke="#111" stroke-width="0.75"/>
<line x1="257.34" y1="248.9" x2="257.34" y2="250.6" stroke="#111" stroke-width="0.75"/>
<line x1="259.08" y1="248.9" x2="259.08" y2="250.6" stroke="#111" stroke-width="0.75"/>
<line x1="260.51" y1="248.9" x2="260.51" y2="250.6" stroke="#111" stroke-width="0.75"/>
<line x1="261.71" y1="248.9" x2="261.71" y2="250.6" stroke="#111" stroke-width="0.75"/>
<line x1="262.76" y1="248.9" x2="262.76" y2="250.6" stroke="#111" stroke-width="0.75"/>
<line x1="263.68" y1="248.9" x2="263.68" y2="250.6" stroke="#111" stroke-width="0.75"/>
<line x1="264.5" y1="248.9" x2="264.5" y2="251.9" stroke="#111" stroke-width="0.75"/>
<line x1="269.47" y1="248.9" x2="269.47" y2="250.6" stroke="#111" stroke-width="0.75"/>
<line x1="272.37" y1="248.9" x2="272.37" y2="250.6" stroke="#111" stroke-width="0.75"/>
<line x1="274.43" y1="248.9" x2="274.43" y2="250.6" stroke="#111" stroke-width="0.75"/>
<line x1="276.03" y1="248.9" x2="276.03" y2="250.6" stroke="#111" stroke-width="0.75"/>
<line x1="277.34" y1="248.9" x2="277.34" y2="250.6" stroke="#111" stroke-width="0.75"/>
<line x1="278.44" y1="248.9" x2="278.44" y2="250.6" stroke="#111" stroke-width="0.75"/>
<line x1="279.4" y1="248.9" x2="279.4" y2="250.6" stroke="#111" stroke-width="0.75"/>
<line x1="280.25" y1="248.9" x2="280.25" y2="250.6" stroke="#111" stroke-width="0.75"/>
<line x1="281.5" y1="248.9" x2="281.5" y2="251.9" stroke="#111" stroke-width="0.75"/>
<line x1="213.1" y1="243.5" x2="209.9" y2="243.5" stroke="#111" stroke-width="0.75"/>
<line x1="213.1" y1="240.47" x2="211.2" y2="240.47" stroke="#111" stroke-width="0.75"/>
<line x1="213.1" y1="238.99" x2="211.2" y2="238.99" stroke="#111" stroke-width="0.75"/>
<line x1="213.1" y1="237.94" x2="211.2" y2="237.94" stroke="#111" stroke-width="0.75"/>
<line x1="213.1" y1="237.13" x2="211.2" y2="237.13" stroke="#111" stroke-width="0.75"/>
<line x1="213.1" y1="236.46" x2="211.2" y2="236.46" stroke="#111" stroke-width="0.75"/>
<line x1="213.1" y1="235.9" x2="211.2" y2="235.9" stroke="#111" stroke-width="0.75"/>
<line x1="213.1" y1="235.41" x2="211.2" y2="235.41" stroke="#111" stroke-width="0.75"/>
<line x1="213.1" y1="234.98" x2="211.2" y2="234.98" stroke="#111" stroke-width="0.75"/>
<line x1="213.1" y1="234.5" x2="209.9" y2="234.5" stroke="#111" stroke-width="0.75"/>
<line x1="213.1" y1="229.72" x2="211.2" y2="229.72" stroke="#111" stroke-width="0.75"/>
<line x1="213.1" y1="226.87" x2="211.2" y2="226.87" stroke="#111" stroke-width="0.75"/>
<line x1="213.1" y1="224.85" x2="211.2" y2="224.85" stroke="#111" stroke-width="0.75"/>
<line x1="213.1" y1="223.28" x2="211.2" y2="223.28" stroke="#111" stroke-width="0.75"/>
<line x1="213.1" y1="221.99" x2="211.2" y2="221.99" stroke="#111" stroke-width="0.75"/>
<line x1="213.1" y1="220.91" x2="211.2" y2="220.91" stroke="#111" stroke-width="0.75"/>
<line x1="213.1" y1="219.97" x2="211.2" y2="219.97" stroke="#111" stroke-width="0.75"/>
<line x1="213.1" y1="219.14" x2="211.2" y2="219.14" stroke="#111" stroke-width="0.75"/>
<line x1="213.1" y1="218.5" x2="209.9" y2="218.5" stroke="#111" stroke-width="0.75"/>
<line x1="213.1" y1="213.52" x2="211.2" y2="213.52" stroke="#111" stroke-width="0.75"/>
<line x1="213.1" y1="210.67" x2="211.2" y2="210.67" stroke="#111" stroke-width="0.75"/>
<line x1="213.1" y1="208.65" x2="211.2" y2="208.65" stroke="#111" stroke-width="0.75"/>
<line x1="213.1" y1="207.08" x2="211.2" y2="207.08" stroke="#111" stroke-width="0.75"/>
<line x1="213.1" y1="205.79" x2="211.2" y2="205.79" stroke="#111" stroke-width="0.75"/>
<line x1="213.1" y1="204.71" x2="211.2" y2="204.71" stroke="#111" stroke-width="0.75"/>
<line x1="213.1" y1="203.77" x2="211.2" y2="203.77" stroke="#111" stroke-width="0.75"/>
<line x1="213.1" y1="202.94" x2="211.2" y2="202.94" stroke="#111" stroke-width="0.75"/>
<line x1="213.1" y1="202.5" x2="209.9" y2="202.5" stroke="#111" stroke-width="0.75"/>
<line x1="213.1" y1="197.32" x2="211.2" y2="197.32" stroke="#111" stroke-width="0.75"/>
<line x1="213.1" y1="194.47" x2="211.2" y2="194.47" stroke="#111" stroke-width="0.75"/>
<line x1="213.1" y1="192.45" x2="211.2" y2="192.45" stroke="#111" stroke-width="0.75"/>
<line x1="213.1" y1="190.88" x2="211.2" y2="190.88" stroke="#111" stroke-width="0.75"/>
<line x1="213.1" y1="189.59" x2="211.2" y2="189.59" stroke="#111" stroke-width="0.75"/>
<line x1="213.1" y1="188.51" x2="211.2" y2="188.51" stroke="#111" stroke-width="0.75"/>
<line x1="213.1" y1="187.57" x2="211.2" y2="187.57" stroke="#111" stroke-width="0.75"/>
<line x1="213.1" y1="186.74" x2="211.2" y2="186.74" stroke="#111" stroke-width="0.75"/>
<line x1="213.1" y1="186.5" x2="209.9" y2="186.5" stroke="#111" stroke-width="0.75"/>
<text x="219.3" y="261.35" font-size="6.6" fill="#222" color="#222" textLength="3" lengthAdjust="spacingAndGlyphs">0</text>
<text x="224.5" y="261.35" font-size="6.6" fill="#222" color="#222" textLength="5.9" lengthAdjust="spacingAndGlyphs">10</text>
<text x="230.6" y="258.9" font-size="3.4" fill="#222" color="#222" textLength="1.6" lengthAdjust="spacingAndGlyphs">2</text>
<text x="244.1" y="261.35" font-size="6.6" fill="#222" color="#222" textLength="5.9" lengthAdjust="spacingAndGlyphs">10</text>
<text x="250.2" y="258.9" font-size="3.4" fill="#222" color="#222" textLength="1.6" lengthAdjust="spacingAndGlyphs">3</text>
<text x="261.5" y="261.35" font-size="6.6" fill="#222" color="#222" textLength="5.9" lengthAdjust="spacingAndGlyphs">10</text>
<text x="267.6" y="258.9" font-size="3.4" fill="#222" color="#222" textLength="1.6" lengthAdjust="spacingAndGlyphs">4</text>
<text x="277.7" y="261.35" font-size="6.6" fill="#222" color="#222" textLength="5.9" lengthAdjust="spacingAndGlyphs">10</text>
<text x="283.8" y="258.9" font-size="3.4" fill="#222" color="#222" textLength="1.6" lengthAdjust="spacingAndGlyphs">5</text>
<text x="200.8" y="245.35" font-size="6.6" fill="#222" color="#222" textLength="5.9" lengthAdjust="spacingAndGlyphs">10</text>
<text x="199" y="236.95" font-size="6.6" fill="#222" color="#222" textLength="5.9" lengthAdjust="spacingAndGlyphs">10</text>
<text x="205.1" y="234.5" font-size="3.4" fill="#222" color="#222" textLength="1.6" lengthAdjust="spacingAndGlyphs">2</text>
<text x="199" y="220.75" font-size="6.6" fill="#222" color="#222" textLength="5.9" lengthAdjust="spacingAndGlyphs">10</text>
<text x="205.1" y="218.3" font-size="3.4" fill="#222" color="#222" textLength="1.6" lengthAdjust="spacingAndGlyphs">3</text>
<text x="199" y="204.55" font-size="6.6" fill="#222" color="#222" textLength="5.9" lengthAdjust="spacingAndGlyphs">10</text>
<text x="205.1" y="202.1" font-size="3.4" fill="#222" color="#222" textLength="1.6" lengthAdjust="spacingAndGlyphs">4</text>
<text x="199" y="188.35" font-size="6.6" fill="#222" color="#222" textLength="5.9" lengthAdjust="spacingAndGlyphs">10</text>
<text x="205.1" y="185.9" font-size="3.4" fill="#222" color="#222" textLength="1.6" lengthAdjust="spacingAndGlyphs">5</text>
<text x="186.8" y="183.8" font-size="10" fill="#222" color="#222" textLength="5.2" lengthAdjust="spacingAndGlyphs">b</text>
<text transform="translate(191.2 214.9) rotate(-90)" font-size="9.6" fill="#222" color="#222" text-anchor="middle" textLength="19.6" lengthAdjust="spacingAndGlyphs">CD14</text>
<text x="242.4" y="273.1" font-size="9.2" fill="#222" color="#222" textLength="18" lengthAdjust="spacingAndGlyphs">Gas6</text>
<text x="214.9" y="186.5" font-size="5.9" fill="#1e1e1e" color="#1e1e1e">100%</text>
<text x="284" y="186.5" font-size="5.9" fill="#a3303f" color="#a3303f" text-anchor="end">0.00%</text>
<text x="214.9" y="246.2" font-size="5.9" fill="#1e1e1e" color="#1e1e1e">0.00%</text>
<text x="284" y="246.2" font-size="5.9" fill="#1e1e1e" color="#1e1e1e" text-anchor="end">0.00%</text>
<path d="M218.96 200.03C219.07 201.16 220.14 202.86 221.28 203.64C222.43 204.41 223.42 205.03 225.84 204.67C228.26 204.31 233.09 203.21 235.82 201.49C238.54 199.77 241.21 196.26 242.18 194.35C243.15 192.44 242.94 190.95 241.66 190.05C240.39 189.15 237.15 188.57 234.53 188.93C231.9 189.29 228.25 190.88 225.93 192.2C223.6 193.52 221.75 195.54 220.59 196.84C219.43 198.15 218.85 198.89 218.96 200.03Z" fill="#1a1a1a"/>
<path d="M217 200.6C217.13 201.92 218.37 203.9 219.7 204.8C221.03 205.7 222.18 206.42 225 206C227.82 205.58 233.43 204.3 236.6 202.3C239.77 200.3 242.87 196.22 244 194C245.13 191.78 244.88 190.05 243.4 189C241.92 187.95 238.15 187.28 235.1 187.7C232.05 188.12 227.8 189.97 225.1 191.5C222.4 193.03 220.25 195.38 218.9 196.9C217.55 198.42 216.87 199.28 217 200.6Z" stroke="#2a2a2a" stroke-width="0.6" fill="none"/>
<path d="M217.98 200.31C218.1 201.54 219.25 203.38 220.49 204.22C221.73 205.06 222.8 205.72 225.42 205.34C228.04 204.95 233.26 203.75 236.21 201.89C239.15 200.03 242.04 196.24 243.09 194.18C244.14 192.11 243.91 190.5 242.53 189.53C241.15 188.55 237.65 187.93 234.81 188.32C231.98 188.7 228.02 190.42 225.51 191.85C223 193.28 221 195.46 219.75 196.87C218.49 198.28 217.86 199.09 217.98 200.31Z" stroke="#2a2a2a" stroke-width="0.6" fill="none"/>
<path d="M218.96 200.03C219.07 201.16 220.14 202.86 221.28 203.64C222.43 204.41 223.42 205.03 225.84 204.67C228.26 204.31 233.09 203.21 235.82 201.49C238.54 199.77 241.21 196.26 242.18 194.35C243.15 192.44 242.94 190.95 241.66 190.05C240.39 189.15 237.15 188.57 234.53 188.93C231.9 189.29 228.25 190.88 225.93 192.2C223.6 193.52 221.75 195.54 220.59 196.84C219.43 198.15 218.85 198.89 218.96 200.03Z" stroke="#2a2a2a" stroke-width="0.6" fill="none"/>
<ellipse cx="232" cy="196.5" rx="3.5" ry="1" fill="#555"/>
<ellipse cx="237.5" cy="192.5" rx="2" ry="0.8" fill="#666"/>
<line x1="370.5" y1="179.5" x2="370.5" y2="249.2" stroke="#555" stroke-width="1"/>
<line x1="332.3" y1="214.5" x2="407.3" y2="214.5" stroke="#555" stroke-width="1"/>
<line x1="332.3" y1="179.5" x2="407.3" y2="179.5" stroke="#1a1a1a" stroke-width="1.1"/>
<line x1="407.5" y1="179.5" x2="407.5" y2="249.2" stroke="#1a1a1a" stroke-width="1.1"/>
<line x1="332.3" y1="179" x2="332.3" y2="249.9" stroke="#111" stroke-width="1.5"/>
<line x1="331.6" y1="249.2" x2="407.8" y2="249.2" stroke="#111" stroke-width="1.5"/>
<line x1="340.5" y1="249.2" x2="340.5" y2="252.2" stroke="#111" stroke-width="0.75"/>
<line x1="344.83" y1="249.2" x2="344.83" y2="250.9" stroke="#111" stroke-width="0.75"/>
<line x1="347.19" y1="249.2" x2="347.19" y2="250.9" stroke="#111" stroke-width="0.75"/>
<line x1="348.87" y1="249.2" x2="348.87" y2="250.9" stroke="#111" stroke-width="0.75"/>
<line x1="350.17" y1="249.2" x2="350.17" y2="250.9" stroke="#111" stroke-width="0.75"/>
<line x1="351.23" y1="249.2" x2="351.23" y2="250.9" stroke="#111" stroke-width="0.75"/>
<line x1="352.12" y1="249.2" x2="352.12" y2="250.9" stroke="#111" stroke-width="0.75"/>
<line x1="352.9" y1="249.2" x2="352.9" y2="250.9" stroke="#111" stroke-width="0.75"/>
<line x1="353.59" y1="249.2" x2="353.59" y2="250.9" stroke="#111" stroke-width="0.75"/>
<line x1="354.5" y1="249.2" x2="354.5" y2="252.2" stroke="#111" stroke-width="0.75"/>
<line x1="359.08" y1="249.2" x2="359.08" y2="250.9" stroke="#111" stroke-width="0.75"/>
<line x1="361.93" y1="249.2" x2="361.93" y2="250.9" stroke="#111" stroke-width="0.75"/>
<line x1="363.95" y1="249.2" x2="363.95" y2="250.9" stroke="#111" stroke-width="0.75"/>
<line x1="365.52" y1="249.2" x2="365.52" y2="250.9" stroke="#111" stroke-width="0.75"/>
<line x1="366.81" y1="249.2" x2="366.81" y2="250.9" stroke="#111" stroke-width="0.75"/>
<line x1="367.89" y1="249.2" x2="367.89" y2="250.9" stroke="#111" stroke-width="0.75"/>
<line x1="368.83" y1="249.2" x2="368.83" y2="250.9" stroke="#111" stroke-width="0.75"/>
<line x1="369.66" y1="249.2" x2="369.66" y2="250.9" stroke="#111" stroke-width="0.75"/>
<line x1="370.5" y1="249.2" x2="370.5" y2="252.2" stroke="#111" stroke-width="0.75"/>
<line x1="374.86" y1="249.2" x2="374.86" y2="250.9" stroke="#111" stroke-width="0.75"/>
<line x1="377.46" y1="249.2" x2="377.46" y2="250.9" stroke="#111" stroke-width="0.75"/>
<line x1="379.31" y1="249.2" x2="379.31" y2="250.9" stroke="#111" stroke-width="0.75"/>
<line x1="380.74" y1="249.2" x2="380.74" y2="250.9" stroke="#111" stroke-width="0.75"/>
<line x1="381.92" y1="249.2" x2="381.92" y2="250.9" stroke="#111" stroke-width="0.75"/>
<line x1="382.91" y1="249.2" x2="382.91" y2="250.9" stroke="#111" stroke-width="0.75"/>
<line x1="383.77" y1="249.2" x2="383.77" y2="250.9" stroke="#111" stroke-width="0.75"/>
<line x1="384.52" y1="249.2" x2="384.52" y2="250.9" stroke="#111" stroke-width="0.75"/>
<line x1="385.5" y1="249.2" x2="385.5" y2="252.2" stroke="#111" stroke-width="0.75"/>
<line x1="389.63" y1="249.2" x2="389.63" y2="250.9" stroke="#111" stroke-width="0.75"/>
<line x1="392.21" y1="249.2" x2="392.21" y2="250.9" stroke="#111" stroke-width="0.75"/>
<line x1="394.05" y1="249.2" x2="394.05" y2="250.9" stroke="#111" stroke-width="0.75"/>
<line x1="395.47" y1="249.2" x2="395.47" y2="250.9" stroke="#111" stroke-width="0.75"/>
<line x1="396.64" y1="249.2" x2="396.64" y2="250.9" stroke="#111" stroke-width="0.75"/>
<line x1="397.62" y1="249.2" x2="397.62" y2="250.9" stroke="#111" stroke-width="0.75"/>
<line x1="398.48" y1="249.2" x2="398.48" y2="250.9" stroke="#111" stroke-width="0.75"/>
<line x1="399.23" y1="249.2" x2="399.23" y2="250.9" stroke="#111" stroke-width="0.75"/>
<line x1="399.5" y1="249.2" x2="399.5" y2="252.2" stroke="#111" stroke-width="0.75"/>
<line x1="332.3" y1="242.5" x2="329.1" y2="242.5" stroke="#111" stroke-width="0.75"/>
<line x1="332.3" y1="237.7" x2="330.4" y2="237.7" stroke="#111" stroke-width="0.75"/>
<line x1="332.3" y1="235.18" x2="330.4" y2="235.18" stroke="#111" stroke-width="0.75"/>
<line x1="332.3" y1="233.39" x2="330.4" y2="233.39" stroke="#111" stroke-width="0.75"/>
<line x1="332.3" y1="232" x2="330.4" y2="232" stroke="#111" stroke-width="0.75"/>
<line x1="332.3" y1="230.87" x2="330.4" y2="230.87" stroke="#111" stroke-width="0.75"/>
<line x1="332.3" y1="229.92" x2="330.4" y2="229.92" stroke="#111" stroke-width="0.75"/>
<line x1="332.3" y1="229.09" x2="330.4" y2="229.09" stroke="#111" stroke-width="0.75"/>
<line x1="332.3" y1="228.35" x2="330.4" y2="228.35" stroke="#111" stroke-width="0.75"/>
<line x1="332.3" y1="227.5" x2="329.1" y2="227.5" stroke="#111" stroke-width="0.75"/>
<line x1="332.3" y1="223.73" x2="330.4" y2="223.73" stroke="#111" stroke-width="0.75"/>
<line x1="332.3" y1="221.4" x2="330.4" y2="221.4" stroke="#111" stroke-width="0.75"/>
<line x1="332.3" y1="219.75" x2="330.4" y2="219.75" stroke="#111" stroke-width="0.75"/>
<line x1="332.3" y1="218.47" x2="330.4" y2="218.47" stroke="#111" stroke-width="0.75"/>
<line x1="332.3" y1="217.43" x2="330.4" y2="217.43" stroke="#111" stroke-width="0.75"/>
<line x1="332.3" y1="216.54" x2="330.4" y2="216.54" stroke="#111" stroke-width="0.75"/>
<line x1="332.3" y1="215.78" x2="330.4" y2="215.78" stroke="#111" stroke-width="0.75"/>
<line x1="332.3" y1="215.1" x2="330.4" y2="215.1" stroke="#111" stroke-width="0.75"/>
<line x1="332.3" y1="214.5" x2="329.1" y2="214.5" stroke="#111" stroke-width="0.75"/>
<line x1="332.3" y1="210.38" x2="330.4" y2="210.38" stroke="#111" stroke-width="0.75"/>
<line x1="332.3" y1="207.96" x2="330.4" y2="207.96" stroke="#111" stroke-width="0.75"/>
<line x1="332.3" y1="206.25" x2="330.4" y2="206.25" stroke="#111" stroke-width="0.75"/>
<line x1="332.3" y1="204.92" x2="330.4" y2="204.92" stroke="#111" stroke-width="0.75"/>
<line x1="332.3" y1="203.84" x2="330.4" y2="203.84" stroke="#111" stroke-width="0.75"/>
<line x1="332.3" y1="202.92" x2="330.4" y2="202.92" stroke="#111" stroke-width="0.75"/>
<line x1="332.3" y1="202.13" x2="330.4" y2="202.13" stroke="#111" stroke-width="0.75"/>
<line x1="332.3" y1="201.43" x2="330.4" y2="201.43" stroke="#111" stroke-width="0.75"/>
<line x1="332.3" y1="200.5" x2="329.1" y2="200.5" stroke="#111" stroke-width="0.75"/>
<line x1="332.3" y1="196.5" x2="330.4" y2="196.5" stroke="#111" stroke-width="0.75"/>
<line x1="332.3" y1="193.98" x2="330.4" y2="193.98" stroke="#111" stroke-width="0.75"/>
<line x1="332.3" y1="192.19" x2="330.4" y2="192.19" stroke="#111" stroke-width="0.75"/>
<line x1="332.3" y1="190.8" x2="330.4" y2="190.8" stroke="#111" stroke-width="0.75"/>
<line x1="332.3" y1="189.67" x2="330.4" y2="189.67" stroke="#111" stroke-width="0.75"/>
<line x1="332.3" y1="188.72" x2="330.4" y2="188.72" stroke="#111" stroke-width="0.75"/>
<line x1="332.3" y1="187.89" x2="330.4" y2="187.89" stroke="#111" stroke-width="0.75"/>
<line x1="332.3" y1="187.15" x2="330.4" y2="187.15" stroke="#111" stroke-width="0.75"/>
<line x1="332.3" y1="186.5" x2="329.1" y2="186.5" stroke="#111" stroke-width="0.75"/>
<text x="337.85" y="261.45" font-size="6.6" fill="#222" color="#222" textLength="5.9" lengthAdjust="spacingAndGlyphs">10</text>
<text x="351.1" y="261.45" font-size="6.6" fill="#222" color="#222" textLength="5.9" lengthAdjust="spacingAndGlyphs">10</text>
<text x="357.2" y="259" font-size="3.4" fill="#222" color="#222" textLength="1.6" lengthAdjust="spacingAndGlyphs">2</text>
<text x="366.5" y="261.45" font-size="6.6" fill="#222" color="#222" textLength="5.9" lengthAdjust="spacingAndGlyphs">10</text>
<text x="372.6" y="259" font-size="3.4" fill="#222" color="#222" textLength="1.6" lengthAdjust="spacingAndGlyphs">3</text>
<text x="381.2" y="261.45" font-size="6.6" fill="#222" color="#222" textLength="5.9" lengthAdjust="spacingAndGlyphs">10</text>
<text x="387.3" y="259" font-size="3.4" fill="#222" color="#222" textLength="1.6" lengthAdjust="spacingAndGlyphs">4</text>
<text x="396.2" y="261.45" font-size="6.6" fill="#222" color="#222" textLength="5.9" lengthAdjust="spacingAndGlyphs">10</text>
<text x="402.3" y="259" font-size="3.4" fill="#222" color="#222" textLength="1.6" lengthAdjust="spacingAndGlyphs">5</text>
<text x="320.8" y="244.35" font-size="6.6" fill="#222" color="#222" textLength="5.9" lengthAdjust="spacingAndGlyphs">10</text>
<text x="319" y="230.05" font-size="6.6" fill="#222" color="#222" textLength="5.9" lengthAdjust="spacingAndGlyphs">10</text>
<text x="325.1" y="227.6" font-size="3.4" fill="#222" color="#222" textLength="1.6" lengthAdjust="spacingAndGlyphs">2</text>
<text x="319" y="216.85" font-size="6.6" fill="#222" color="#222" textLength="5.9" lengthAdjust="spacingAndGlyphs">10</text>
<text x="325.1" y="214.4" font-size="3.4" fill="#222" color="#222" textLength="1.6" lengthAdjust="spacingAndGlyphs">3</text>
<text x="319" y="203.15" font-size="6.6" fill="#222" color="#222" textLength="5.9" lengthAdjust="spacingAndGlyphs">10</text>
<text x="325.1" y="200.7" font-size="3.4" fill="#222" color="#222" textLength="1.6" lengthAdjust="spacingAndGlyphs">4</text>
<text x="319" y="188.85" font-size="6.6" fill="#222" color="#222" textLength="5.9" lengthAdjust="spacingAndGlyphs">10</text>
<text x="325.1" y="186.4" font-size="3.4" fill="#222" color="#222" textLength="1.6" lengthAdjust="spacingAndGlyphs">5</text>
<text x="306.9" y="183.7" font-size="10" fill="#222" color="#222" textLength="4.3" lengthAdjust="spacingAndGlyphs">c</text>
<text transform="translate(311 214.2) rotate(-90)" font-size="9.6" fill="#222" color="#222" text-anchor="middle" textLength="20.1" lengthAdjust="spacingAndGlyphs">CD19</text>
<text x="361.2" y="273.1" font-size="9.2" fill="#222" color="#222" textLength="18" lengthAdjust="spacingAndGlyphs">Gas6</text>
<text x="333.5" y="186.8" font-size="5.9" fill="#1e1e1e" color="#1e1e1e">80.23%</text>
<text x="402.9" y="186.8" font-size="5.9" fill="#a3303f" color="#a3303f" text-anchor="end">9.12%</text>
<text x="333.5" y="246.4" font-size="5.9" fill="#1e1e1e" color="#1e1e1e">10.52%</text>
<text x="402.9" y="246.4" font-size="5.9" fill="#1e1e1e" color="#1e1e1e" text-anchor="end">0.13%</text>
<path d="M357.8 216.5C356.08 217.17 356.92 219.32 357.2 220.5C357.48 221.68 358.63 223.02 359.5 223.6C360.37 224.18 361.42 224.35 362.4 224C363.38 223.65 364.55 222.75 365.4 221.5C366.25 220.25 368.77 217.33 367.5 216.5C366.23 215.67 359.52 215.83 357.8 216.5Z" stroke="#262626" stroke-width="0.55" fill="none"/>
<path d="M358.79 216.83C357.45 217.35 358.1 219.03 358.32 219.95C358.54 220.87 359.44 221.91 360.12 222.37C360.79 222.82 361.61 222.95 362.38 222.68C363.14 222.41 364.05 221.7 364.72 220.73C365.38 219.75 367.34 217.48 366.36 216.83C365.37 216.18 360.13 216.31 358.79 216.83Z" stroke="#262626" stroke-width="0.55" fill="none"/>
<path d="M359.69 217.13C358.69 217.52 359.18 218.76 359.34 219.45C359.51 220.14 360.17 220.91 360.68 221.25C361.18 221.59 361.79 221.68 362.36 221.48C362.93 221.28 363.61 220.75 364.1 220.03C364.59 219.31 366.05 217.61 365.32 217.13C364.58 216.65 360.69 216.74 359.69 217.13Z" stroke="#262626" stroke-width="0.55" fill="none"/>
<path d="M368.89 206.89C369.35 207.37 369.63 208.17 369.62 208.99C369.61 209.81 369.31 210.88 368.83 211.82C368.34 212.75 367.54 213.81 366.71 214.61C365.88 215.42 364.8 216.18 363.84 216.63C362.89 217.08 361.81 217.35 360.99 217.33C360.17 217.31 359.38 217 358.91 216.51C358.45 216.03 358.17 215.23 358.18 214.41C358.19 213.59 358.49 212.52 358.97 211.58C359.46 210.65 360.26 209.59 361.09 208.79C361.92 207.98 363 207.22 363.96 206.77C364.91 206.32 365.99 206.05 366.81 206.07C367.63 206.09 368.42 206.4 368.89 206.89Z" fill="#1a1a1a"/>
<path d="M369.44 206.35C369.96 206.89 370.27 207.77 370.26 208.69C370.25 209.6 369.92 210.79 369.38 211.83C368.84 212.87 367.95 214.05 367.03 214.94C366.1 215.83 364.9 216.68 363.84 217.18C362.78 217.68 361.58 217.97 360.67 217.95C359.75 217.93 358.88 217.59 358.36 217.05C357.84 216.51 357.53 215.63 357.54 214.71C357.55 213.8 357.88 212.61 358.42 211.57C358.96 210.53 359.85 209.35 360.77 208.46C361.7 207.57 362.9 206.72 363.96 206.22C365.02 205.72 366.22 205.43 367.13 205.45C368.05 205.47 368.92 205.81 369.44 206.35Z" stroke="#2a2a2a" stroke-width="0.6" fill="none"/>
<path d="M368.66 207.1C369.11 207.56 369.38 208.32 369.37 209.11C369.36 209.89 369.07 210.91 368.61 211.81C368.15 212.71 367.38 213.72 366.59 214.48C365.79 215.25 364.76 215.98 363.85 216.41C362.93 216.84 361.9 217.09 361.12 217.08C360.33 217.06 359.58 216.76 359.14 216.3C358.69 215.84 358.42 215.08 358.43 214.29C358.44 213.51 358.73 212.49 359.19 211.59C359.65 210.69 360.42 209.68 361.21 208.92C362.01 208.15 363.04 207.42 363.95 206.99C364.87 206.56 365.9 206.31 366.68 206.32C367.47 206.34 368.22 206.64 368.66 207.1Z" stroke="#2a2a2a" stroke-width="0.6" fill="none"/>
<line x1="129.5" y1="290.6" x2="129.5" y2="360.8" stroke="#555" stroke-width="1"/>
<line x1="95.3" y1="328.5" x2="169.7" y2="328.5" stroke="#555" stroke-width="1"/>
<line x1="95.3" y1="290.5" x2="169.7" y2="290.5" stroke="#1a1a1a" stroke-width="1.1"/>
<line x1="169.5" y1="290.6" x2="169.5" y2="360.8" stroke="#1a1a1a" stroke-width="1.1"/>
<line x1="95.3" y1="290.1" x2="95.3" y2="361.5" stroke="#111" stroke-width="1.5"/>
<line x1="94.6" y1="360.8" x2="170.2" y2="360.8" stroke="#111" stroke-width="1.5"/>
<line x1="102.5" y1="360.8" x2="102.5" y2="363.8" stroke="#111" stroke-width="0.75"/>
<line x1="105.33" y1="360.8" x2="105.33" y2="362.5" stroke="#111" stroke-width="0.75"/>
<line x1="107.16" y1="360.8" x2="107.16" y2="362.5" stroke="#111" stroke-width="0.75"/>
<line x1="108.46" y1="360.8" x2="108.46" y2="362.5" stroke="#111" stroke-width="0.75"/>
<line x1="109.47" y1="360.8" x2="109.47" y2="362.5" stroke="#111" stroke-width="0.75"/>
<line x1="110.29" y1="360.8" x2="110.29" y2="362.5" stroke="#111" stroke-width="0.75"/>
<line x1="110.99" y1="360.8" x2="110.99" y2="362.5" stroke="#111" stroke-width="0.75"/>
<line x1="111.59" y1="360.8" x2="111.59" y2="362.5" stroke="#111" stroke-width="0.75"/>
<line x1="112.12" y1="360.8" x2="112.12" y2="362.5" stroke="#111" stroke-width="0.75"/>
<line x1="112.5" y1="360.8" x2="112.5" y2="363.8" stroke="#111" stroke-width="0.75"/>
<line x1="117.66" y1="360.8" x2="117.66" y2="362.5" stroke="#111" stroke-width="0.75"/>
<line x1="120.62" y1="360.8" x2="120.62" y2="362.5" stroke="#111" stroke-width="0.75"/>
<line x1="122.71" y1="360.8" x2="122.71" y2="362.5" stroke="#111" stroke-width="0.75"/>
<line x1="124.34" y1="360.8" x2="124.34" y2="362.5" stroke="#111" stroke-width="0.75"/>
<line x1="125.67" y1="360.8" x2="125.67" y2="362.5" stroke="#111" stroke-width="0.75"/>
<line x1="126.8" y1="360.8" x2="126.8" y2="362.5" stroke="#111" stroke-width="0.75"/>
<line x1="127.77" y1="360.8" x2="127.77" y2="362.5" stroke="#111" stroke-width="0.75"/>
<line x1="128.63" y1="360.8" x2="128.63" y2="362.5" stroke="#111" stroke-width="0.75"/>
<line x1="129.5" y1="360.8" x2="129.5" y2="363.8" stroke="#111" stroke-width="0.75"/>
<line x1="134.46" y1="360.8" x2="134.46" y2="362.5" stroke="#111" stroke-width="0.75"/>
<line x1="137.42" y1="360.8" x2="137.42" y2="362.5" stroke="#111" stroke-width="0.75"/>
<line x1="139.51" y1="360.8" x2="139.51" y2="362.5" stroke="#111" stroke-width="0.75"/>
<line x1="141.14" y1="360.8" x2="141.14" y2="362.5" stroke="#111" stroke-width="0.75"/>
<line x1="142.47" y1="360.8" x2="142.47" y2="362.5" stroke="#111" stroke-width="0.75"/>
<line x1="143.6" y1="360.8" x2="143.6" y2="362.5" stroke="#111" stroke-width="0.75"/>
<line x1="144.57" y1="360.8" x2="144.57" y2="362.5" stroke="#111" stroke-width="0.75"/>
<line x1="145.43" y1="360.8" x2="145.43" y2="362.5" stroke="#111" stroke-width="0.75"/>
<line x1="146.5" y1="360.8" x2="146.5" y2="363.8" stroke="#111" stroke-width="0.75"/>
<line x1="151.05" y1="360.8" x2="151.05" y2="362.5" stroke="#111" stroke-width="0.75"/>
<line x1="153.88" y1="360.8" x2="153.88" y2="362.5" stroke="#111" stroke-width="0.75"/>
<line x1="155.89" y1="360.8" x2="155.89" y2="362.5" stroke="#111" stroke-width="0.75"/>
<line x1="157.45" y1="360.8" x2="157.45" y2="362.5" stroke="#111" stroke-width="0.75"/>
<line x1="158.73" y1="360.8" x2="158.73" y2="362.5" stroke="#111" stroke-width="0.75"/>
<line x1="159.81" y1="360.8" x2="159.81" y2="362.5" stroke="#111" stroke-width="0.75"/>
<line x1="160.74" y1="360.8" x2="160.74" y2="362.5" stroke="#111" stroke-width="0.75"/>
<line x1="161.56" y1="360.8" x2="161.56" y2="362.5" stroke="#111" stroke-width="0.75"/>
<line x1="162.5" y1="360.8" x2="162.5" y2="363.8" stroke="#111" stroke-width="0.75"/>
<line x1="95.3" y1="354.5" x2="92.1" y2="354.5" stroke="#111" stroke-width="0.75"/>
<line x1="95.3" y1="351.82" x2="93.4" y2="351.82" stroke="#111" stroke-width="0.75"/>
<line x1="95.3" y1="350.43" x2="93.4" y2="350.43" stroke="#111" stroke-width="0.75"/>
<line x1="95.3" y1="349.44" x2="93.4" y2="349.44" stroke="#111" stroke-width="0.75"/>
<line x1="95.3" y1="348.68" x2="93.4" y2="348.68" stroke="#111" stroke-width="0.75"/>
<line x1="95.3" y1="348.05" x2="93.4" y2="348.05" stroke="#111" stroke-width="0.75"/>
<line x1="95.3" y1="347.52" x2="93.4" y2="347.52" stroke="#111" stroke-width="0.75"/>
<line x1="95.3" y1="347.07" x2="93.4" y2="347.07" stroke="#111" stroke-width="0.75"/>
<line x1="95.3" y1="346.66" x2="93.4" y2="346.66" stroke="#111" stroke-width="0.75"/>
<line x1="95.3" y1="346.5" x2="92.1" y2="346.5" stroke="#111" stroke-width="0.75"/>
<line x1="95.3" y1="341.21" x2="93.4" y2="341.21" stroke="#111" stroke-width="0.75"/>
<line x1="95.3" y1="338.24" x2="93.4" y2="338.24" stroke="#111" stroke-width="0.75"/>
<line x1="95.3" y1="336.13" x2="93.4" y2="336.13" stroke="#111" stroke-width="0.75"/>
<line x1="95.3" y1="334.49" x2="93.4" y2="334.49" stroke="#111" stroke-width="0.75"/>
<line x1="95.3" y1="333.15" x2="93.4" y2="333.15" stroke="#111" stroke-width="0.75"/>
<line x1="95.3" y1="332.02" x2="93.4" y2="332.02" stroke="#111" stroke-width="0.75"/>
<line x1="95.3" y1="331.04" x2="93.4" y2="331.04" stroke="#111" stroke-width="0.75"/>
<line x1="95.3" y1="330.17" x2="93.4" y2="330.17" stroke="#111" stroke-width="0.75"/>
<line x1="95.3" y1="329.5" x2="92.1" y2="329.5" stroke="#111" stroke-width="0.75"/>
<line x1="95.3" y1="324.67" x2="93.4" y2="324.67" stroke="#111" stroke-width="0.75"/>
<line x1="95.3" y1="321.91" x2="93.4" y2="321.91" stroke="#111" stroke-width="0.75"/>
<line x1="95.3" y1="319.95" x2="93.4" y2="319.95" stroke="#111" stroke-width="0.75"/>
<line x1="95.3" y1="318.43" x2="93.4" y2="318.43" stroke="#111" stroke-width="0.75"/>
<line x1="95.3" y1="317.18" x2="93.4" y2="317.18" stroke="#111" stroke-width="0.75"/>
<line x1="95.3" y1="316.13" x2="93.4" y2="316.13" stroke="#111" stroke-width="0.75"/>
<line x1="95.3" y1="315.22" x2="93.4" y2="315.22" stroke="#111" stroke-width="0.75"/>
<line x1="95.3" y1="314.42" x2="93.4" y2="314.42" stroke="#111" stroke-width="0.75"/>
<line x1="95.3" y1="313.5" x2="92.1" y2="313.5" stroke="#111" stroke-width="0.75"/>
<line x1="95.3" y1="308.7" x2="93.4" y2="308.7" stroke="#111" stroke-width="0.75"/>
<line x1="95.3" y1="305.78" x2="93.4" y2="305.78" stroke="#111" stroke-width="0.75"/>
<line x1="95.3" y1="303.71" x2="93.4" y2="303.71" stroke="#111" stroke-width="0.75"/>
<line x1="95.3" y1="302.1" x2="93.4" y2="302.1" stroke="#111" stroke-width="0.75"/>
<line x1="95.3" y1="300.78" x2="93.4" y2="300.78" stroke="#111" stroke-width="0.75"/>
<line x1="95.3" y1="299.67" x2="93.4" y2="299.67" stroke="#111" stroke-width="0.75"/>
<line x1="95.3" y1="298.71" x2="93.4" y2="298.71" stroke="#111" stroke-width="0.75"/>
<line x1="95.3" y1="297.86" x2="93.4" y2="297.86" stroke="#111" stroke-width="0.75"/>
<line x1="95.3" y1="297.5" x2="92.1" y2="297.5" stroke="#111" stroke-width="0.75"/>
<text x="99.25" y="372.95" font-size="6.6" fill="#222" color="#222" textLength="5.9" lengthAdjust="spacingAndGlyphs">10</text>
<text x="109.6" y="372.95" font-size="6.6" fill="#222" color="#222" textLength="5.9" lengthAdjust="spacingAndGlyphs">10</text>
<text x="115.7" y="370.5" font-size="3.4" fill="#222" color="#222" textLength="1.6" lengthAdjust="spacingAndGlyphs">2</text>
<text x="125.7" y="372.95" font-size="6.6" fill="#222" color="#222" textLength="5.9" lengthAdjust="spacingAndGlyphs">10</text>
<text x="131.8" y="370.5" font-size="3.4" fill="#222" color="#222" textLength="1.6" lengthAdjust="spacingAndGlyphs">3</text>
<text x="143" y="372.95" font-size="6.6" fill="#222" color="#222" textLength="5.9" lengthAdjust="spacingAndGlyphs">10</text>
<text x="149.1" y="370.5" font-size="3.4" fill="#222" color="#222" textLength="1.6" lengthAdjust="spacingAndGlyphs">4</text>
<text x="158.9" y="372.95" font-size="6.6" fill="#222" color="#222" textLength="5.9" lengthAdjust="spacingAndGlyphs">10</text>
<text x="165" y="370.5" font-size="3.4" fill="#222" color="#222" textLength="1.6" lengthAdjust="spacingAndGlyphs">5</text>
<text x="83.2" y="356.55" font-size="6.6" fill="#222" color="#222" textLength="5.9" lengthAdjust="spacingAndGlyphs">10</text>
<text x="81.4" y="348.65" font-size="6.6" fill="#222" color="#222" textLength="5.9" lengthAdjust="spacingAndGlyphs">10</text>
<text x="87.5" y="346.2" font-size="3.4" fill="#222" color="#222" textLength="1.6" lengthAdjust="spacingAndGlyphs">2</text>
<text x="81.4" y="331.75" font-size="6.6" fill="#222" color="#222" textLength="5.9" lengthAdjust="spacingAndGlyphs">10</text>
<text x="87.5" y="329.3" font-size="3.4" fill="#222" color="#222" textLength="1.6" lengthAdjust="spacingAndGlyphs">3</text>
<text x="81.4" y="316.05" font-size="6.6" fill="#222" color="#222" textLength="5.9" lengthAdjust="spacingAndGlyphs">10</text>
<text x="87.5" y="313.6" font-size="3.4" fill="#222" color="#222" textLength="1.6" lengthAdjust="spacingAndGlyphs">4</text>
<text x="81.4" y="299.45" font-size="6.6" fill="#222" color="#222" textLength="5.9" lengthAdjust="spacingAndGlyphs">10</text>
<text x="87.5" y="297" font-size="3.4" fill="#222" color="#222" textLength="1.6" lengthAdjust="spacingAndGlyphs">5</text>
<text x="68.7" y="293.5" font-size="10" fill="#222" color="#222" textLength="4.5" lengthAdjust="spacingAndGlyphs">a</text>
<text transform="translate(73.9 326) rotate(-90)" font-size="9.6" fill="#222" color="#222" text-anchor="middle" textLength="15.3" lengthAdjust="spacingAndGlyphs">CD3</text>
<text x="123.8" y="385" font-size="9.2" fill="#222" color="#222" textLength="18" lengthAdjust="spacingAndGlyphs">Gas6</text>
<text x="97" y="297.6" font-size="5.9" fill="#1e1e1e" color="#1e1e1e">6.55%</text>
<text x="165.1" y="297.6" font-size="5.9" fill="#a3303f" color="#a3303f" text-anchor="end">76.40%</text>
<text x="97" y="358" font-size="5.9" fill="#1e1e1e" color="#1e1e1e">0.45%</text>
<text x="164.9" y="358" font-size="5.9" fill="#1e1e1e" color="#1e1e1e" text-anchor="end">16.60%</text>
<path d="M127.06 319.06C127.06 317.59 128.84 316.86 130.12 316C131.4 315.14 133.04 314.52 134.74 313.9C136.44 313.28 138.55 312.15 140.32 312.28C142.09 312.41 144.41 313.47 145.36 314.68C146.31 315.89 145.98 317.7 146.02 319.54C146.06 321.38 146.03 324.06 145.6 325.72C145.17 327.38 144.32 328.47 143.44 329.5C142.56 330.53 141.65 331.87 140.32 331.9C138.99 331.93 137.16 330.86 135.46 329.68C133.76 328.5 131.52 326.59 130.12 324.82C128.72 323.05 127.06 320.53 127.06 319.06Z" fill="#3a3a3a"/>
<ellipse cx="143.5" cy="316.0" rx="5.5" ry="6.0" fill="#161616"/>
<ellipse cx="135.5" cy="319.0" rx="3.0" ry="3.5" fill="#2a2a2a"/>
<path d="M128.73 319.25C128.73 317.98 130.27 317.35 131.38 316.6C132.49 315.85 133.91 315.32 135.39 314.78C136.86 314.24 138.69 313.26 140.22 313.38C141.76 313.49 143.77 314.41 144.59 315.46C145.42 316.5 145.13 318.07 145.16 319.67C145.2 321.26 145.17 323.59 144.8 325.02C144.43 326.46 143.69 327.41 142.93 328.3C142.17 329.19 141.38 330.35 140.22 330.38C139.07 330.41 137.49 329.48 136.01 328.46C134.54 327.43 132.6 325.78 131.38 324.24C130.17 322.71 128.73 320.53 128.73 319.25Z" stroke="#888" stroke-width="0.5" fill="none"/>
<path d="M130.82 319.49C130.82 318.46 132.07 317.95 132.96 317.35C133.86 316.75 135.01 316.31 136.2 315.88C137.39 315.45 138.87 314.65 140.1 314.75C141.34 314.84 142.97 315.58 143.63 316.43C144.3 317.27 144.07 318.54 144.09 319.83C144.12 321.12 144.1 322.99 143.8 324.15C143.5 325.32 142.9 326.08 142.29 326.8C141.67 327.52 141.04 328.46 140.1 328.48C139.17 328.5 137.89 327.75 136.7 326.93C135.51 326.1 133.94 324.76 132.96 323.52C131.98 322.29 130.82 320.52 130.82 319.49Z" stroke="#777" stroke-width="0.5" fill="none"/>
<path d="M133.33 319.78C133.33 319.05 134.22 318.68 134.86 318.25C135.5 317.82 136.32 317.51 137.17 317.2C138.02 316.89 139.08 316.32 139.96 316.39C140.84 316.45 142 316.99 142.48 317.59C142.95 318.2 142.79 319.1 142.81 320.02C142.83 320.94 142.81 322.28 142.6 323.11C142.38 323.94 141.96 324.49 141.52 325C141.08 325.51 140.62 326.19 139.96 326.2C139.3 326.21 138.38 325.68 137.53 325.09C136.68 324.5 135.56 323.54 134.86 322.66C134.16 321.77 133.33 320.52 133.33 319.78Z" stroke="#999" stroke-width="0.5" fill="none"/>
<path d="M118.7 318.1C118.7 315.65 121.67 314.43 123.8 313C125.93 311.57 128.67 310.53 131.5 309.5C134.33 308.47 137.85 306.58 140.8 306.8C143.75 307.02 147.62 308.78 149.2 310.8C150.78 312.82 150.23 315.83 150.3 318.9C150.37 321.97 150.32 326.43 149.6 329.2C148.88 331.97 147.47 333.78 146 335.5C144.53 337.22 143.02 339.45 140.8 339.5C138.58 339.55 135.53 337.77 132.7 335.8C129.87 333.83 126.13 330.65 123.8 327.7C121.47 324.75 118.7 320.55 118.7 318.1Z" stroke="#1e1e1e" stroke-width="0.6" fill="none"/>
<path d="M121.42 318.41C121.42 316.28 124 315.22 125.85 313.98C127.71 312.73 130.09 311.83 132.55 310.93C135.02 310.03 138.08 308.39 140.64 308.58C143.21 308.77 146.57 310.31 147.95 312.06C149.33 313.82 148.85 316.44 148.91 319.11C148.97 321.78 148.92 325.66 148.3 328.07C147.68 330.48 146.44 332.06 145.17 333.55C143.89 335.04 142.57 336.99 140.64 337.03C138.72 337.07 136.06 335.52 133.6 333.81C131.13 332.1 127.88 329.33 125.85 326.76C123.82 324.2 121.42 320.54 121.42 318.41Z" stroke="#1e1e1e" stroke-width="0.6" fill="none"/>
<path d="M123.72 318.68C123.72 316.81 125.97 315.89 127.59 314.8C129.21 313.71 131.29 312.93 133.44 312.14C135.6 311.35 138.27 309.92 140.51 310.09C142.75 310.25 145.69 311.6 146.9 313.13C148.1 314.66 147.68 316.95 147.73 319.28C147.78 321.61 147.74 325.01 147.2 327.11C146.66 329.21 145.58 330.6 144.46 331.9C143.35 333.2 142.2 334.9 140.51 334.94C138.83 334.98 136.51 333.62 134.36 332.13C132.2 330.63 129.37 328.21 127.59 325.97C125.82 323.73 123.72 320.54 123.72 318.68Z" stroke="#1e1e1e" stroke-width="0.6" fill="none"/>
<path d="M125.6 318.89C125.6 317.25 127.58 316.44 129.01 315.48C130.44 314.51 132.27 313.82 134.17 313.13C136.07 312.44 138.43 311.18 140.4 311.32C142.38 311.47 144.97 312.65 146.03 314C147.09 315.35 146.72 317.37 146.77 319.43C146.81 321.48 146.78 324.48 146.3 326.33C145.82 328.18 144.87 329.4 143.89 330.55C142.91 331.7 141.89 333.2 140.4 333.23C138.92 333.26 136.88 332.07 134.98 330.75C133.08 329.43 130.58 327.3 129.01 325.32C127.45 323.35 125.6 320.53 125.6 318.89Z" stroke="#1e1e1e" stroke-width="0.6" fill="none"/>
<ellipse cx="139.6" cy="319.6" rx="1.3" ry="0.9" fill="#f4f4f4"/>
<ellipse cx="140.8" cy="327.2" rx="1.1" ry="0.9" fill="#dcdcdc"/>
<path d="M147.31 345.95C147.31 346.52 147.07 347.16 146.68 347.66C146.29 348.15 145.64 348.62 144.96 348.91C144.28 349.19 143.39 349.36 142.6 349.36C141.81 349.36 140.92 349.19 140.24 348.91C139.56 348.62 138.91 348.15 138.52 347.66C138.13 347.16 137.89 346.52 137.89 345.95C137.89 345.38 138.13 344.74 138.52 344.25C138.91 343.75 139.56 343.28 140.24 343C140.92 342.71 141.81 342.54 142.6 342.54C143.39 342.54 144.28 342.71 144.96 343C145.64 343.28 146.29 343.75 146.68 344.25C147.07 344.74 147.31 345.38 147.31 345.95Z" fill="#262626"/>
<path d="M150.2 345.8C150.2 346.72 149.82 347.76 149.18 348.55C148.55 349.34 147.5 350.1 146.4 350.56C145.3 351.02 143.87 351.3 142.6 351.3C141.33 351.3 139.9 351.02 138.8 350.56C137.7 350.1 136.65 349.34 136.02 348.55C135.38 347.76 135 346.72 135 345.8C135 344.88 135.38 343.84 136.02 343.05C136.65 342.26 137.7 341.5 138.8 341.04C139.9 340.58 141.33 340.3 142.6 340.3C143.87 340.3 145.3 340.58 146.4 341.04C147.5 341.5 148.55 342.26 149.18 343.05C149.82 343.84 150.2 344.88 150.2 345.8Z" stroke="#262626" stroke-width="0.65" fill="none"/>
<path d="M149.14 345.86C149.14 346.64 148.81 347.54 148.26 348.22C147.72 348.9 146.81 349.56 145.87 349.95C144.92 350.35 143.69 350.59 142.6 350.59C141.51 350.59 140.28 350.35 139.33 349.95C138.39 349.56 137.48 348.9 136.94 348.22C136.39 347.54 136.06 346.64 136.06 345.86C136.06 345.07 136.39 344.17 136.94 343.49C137.48 342.81 138.39 342.15 139.33 341.76C140.28 341.37 141.51 341.13 142.6 341.13C143.69 341.13 144.92 341.37 145.87 341.76C146.81 342.15 147.72 342.81 148.26 343.49C148.81 344.17 149.14 345.07 149.14 345.86Z" stroke="#262626" stroke-width="0.65" fill="none"/>
<path d="M148.22 345.9C148.22 346.58 147.94 347.35 147.47 347.94C147 348.53 146.22 349.09 145.41 349.43C144.6 349.77 143.54 349.97 142.6 349.97C141.66 349.97 140.6 349.77 139.79 349.43C138.98 349.09 138.2 348.53 137.73 347.94C137.26 347.35 136.98 346.58 136.98 345.9C136.98 345.23 137.26 344.46 137.73 343.87C138.2 343.28 138.98 342.72 139.79 342.38C140.6 342.04 141.66 341.83 142.6 341.83C143.54 341.83 144.6 342.04 145.41 342.38C146.22 342.72 147 343.28 147.47 343.87C147.94 344.46 148.22 345.23 148.22 345.9Z" stroke="#262626" stroke-width="0.65" fill="none"/>
<path d="M145.79 346.03C145.79 346.42 145.63 346.85 145.36 347.19C145.1 347.52 144.66 347.84 144.2 348.03C143.74 348.23 143.13 348.34 142.6 348.34C142.07 348.34 141.46 348.23 141 348.03C140.54 347.84 140.1 347.52 139.84 347.19C139.57 346.85 139.41 346.42 139.41 346.03C139.41 345.65 139.57 345.21 139.84 344.88C140.1 344.54 140.54 344.22 141 344.03C141.46 343.84 142.07 343.72 142.6 343.72C143.13 343.72 143.74 343.84 144.2 344.03C144.66 344.22 145.1 344.54 145.36 344.88C145.63 345.21 145.79 345.65 145.79 346.03Z" stroke="#888" stroke-width="0.5" fill="none"/>
<ellipse cx="143.4" cy="346.4" rx="1.4" ry="0.9" fill="#f4f4f4"/>
<line x1="246.5" y1="290.8" x2="246.5" y2="360.8" stroke="#555" stroke-width="1"/>
<line x1="213.2" y1="329.5" x2="288.8" y2="329.5" stroke="#555" stroke-width="1"/>
<line x1="213.2" y1="290.5" x2="288.8" y2="290.5" stroke="#1a1a1a" stroke-width="1.1"/>
<line x1="288.5" y1="290.8" x2="288.5" y2="360.8" stroke="#1a1a1a" stroke-width="1.1"/>
<line x1="213.2" y1="290.3" x2="213.2" y2="361.5" stroke="#111" stroke-width="1.5"/>
<line x1="212.5" y1="360.8" x2="289.3" y2="360.8" stroke="#111" stroke-width="1.5"/>
<line x1="219.5" y1="360.8" x2="219.5" y2="363.8" stroke="#111" stroke-width="0.75"/>
<line x1="222.5" y1="360.8" x2="222.5" y2="362.5" stroke="#111" stroke-width="0.75"/>
<line x1="224.14" y1="360.8" x2="224.14" y2="362.5" stroke="#111" stroke-width="0.75"/>
<line x1="225.3" y1="360.8" x2="225.3" y2="362.5" stroke="#111" stroke-width="0.75"/>
<line x1="226.2" y1="360.8" x2="226.2" y2="362.5" stroke="#111" stroke-width="0.75"/>
<line x1="226.94" y1="360.8" x2="226.94" y2="362.5" stroke="#111" stroke-width="0.75"/>
<line x1="227.56" y1="360.8" x2="227.56" y2="362.5" stroke="#111" stroke-width="0.75"/>
<line x1="228.1" y1="360.8" x2="228.1" y2="362.5" stroke="#111" stroke-width="0.75"/>
<line x1="228.57" y1="360.8" x2="228.57" y2="362.5" stroke="#111" stroke-width="0.75"/>
<line x1="229.5" y1="360.8" x2="229.5" y2="363.8" stroke="#111" stroke-width="0.75"/>
<line x1="234.27" y1="360.8" x2="234.27" y2="362.5" stroke="#111" stroke-width="0.75"/>
<line x1="237.35" y1="360.8" x2="237.35" y2="362.5" stroke="#111" stroke-width="0.75"/>
<line x1="239.54" y1="360.8" x2="239.54" y2="362.5" stroke="#111" stroke-width="0.75"/>
<line x1="241.23" y1="360.8" x2="241.23" y2="362.5" stroke="#111" stroke-width="0.75"/>
<line x1="242.62" y1="360.8" x2="242.62" y2="362.5" stroke="#111" stroke-width="0.75"/>
<line x1="243.79" y1="360.8" x2="243.79" y2="362.5" stroke="#111" stroke-width="0.75"/>
<line x1="244.8" y1="360.8" x2="244.8" y2="362.5" stroke="#111" stroke-width="0.75"/>
<line x1="245.7" y1="360.8" x2="245.7" y2="362.5" stroke="#111" stroke-width="0.75"/>
<line x1="246.5" y1="360.8" x2="246.5" y2="363.8" stroke="#111" stroke-width="0.75"/>
<line x1="251.35" y1="360.8" x2="251.35" y2="362.5" stroke="#111" stroke-width="0.75"/>
<line x1="254.18" y1="360.8" x2="254.18" y2="362.5" stroke="#111" stroke-width="0.75"/>
<line x1="256.19" y1="360.8" x2="256.19" y2="362.5" stroke="#111" stroke-width="0.75"/>
<line x1="257.75" y1="360.8" x2="257.75" y2="362.5" stroke="#111" stroke-width="0.75"/>
<line x1="259.03" y1="360.8" x2="259.03" y2="362.5" stroke="#111" stroke-width="0.75"/>
<line x1="260.11" y1="360.8" x2="260.11" y2="362.5" stroke="#111" stroke-width="0.75"/>
<line x1="261.04" y1="360.8" x2="261.04" y2="362.5" stroke="#111" stroke-width="0.75"/>
<line x1="261.86" y1="360.8" x2="261.86" y2="362.5" stroke="#111" stroke-width="0.75"/>
<line x1="262.5" y1="360.8" x2="262.5" y2="363.8" stroke="#111" stroke-width="0.75"/>
<line x1="267.6" y1="360.8" x2="267.6" y2="362.5" stroke="#111" stroke-width="0.75"/>
<line x1="270.52" y1="360.8" x2="270.52" y2="362.5" stroke="#111" stroke-width="0.75"/>
<line x1="272.59" y1="360.8" x2="272.59" y2="362.5" stroke="#111" stroke-width="0.75"/>
<line x1="274.2" y1="360.8" x2="274.2" y2="362.5" stroke="#111" stroke-width="0.75"/>
<line x1="275.52" y1="360.8" x2="275.52" y2="362.5" stroke="#111" stroke-width="0.75"/>
<line x1="276.63" y1="360.8" x2="276.63" y2="362.5" stroke="#111" stroke-width="0.75"/>
<line x1="277.59" y1="360.8" x2="277.59" y2="362.5" stroke="#111" stroke-width="0.75"/>
<line x1="278.44" y1="360.8" x2="278.44" y2="362.5" stroke="#111" stroke-width="0.75"/>
<line x1="279.5" y1="360.8" x2="279.5" y2="363.8" stroke="#111" stroke-width="0.75"/>
<line x1="213.2" y1="354.5" x2="210" y2="354.5" stroke="#111" stroke-width="0.75"/>
<line x1="213.2" y1="351.64" x2="211.3" y2="351.64" stroke="#111" stroke-width="0.75"/>
<line x1="213.2" y1="350.14" x2="211.3" y2="350.14" stroke="#111" stroke-width="0.75"/>
<line x1="213.2" y1="349.08" x2="211.3" y2="349.08" stroke="#111" stroke-width="0.75"/>
<line x1="213.2" y1="348.26" x2="211.3" y2="348.26" stroke="#111" stroke-width="0.75"/>
<line x1="213.2" y1="347.59" x2="211.3" y2="347.59" stroke="#111" stroke-width="0.75"/>
<line x1="213.2" y1="347.02" x2="211.3" y2="347.02" stroke="#111" stroke-width="0.75"/>
<line x1="213.2" y1="346.52" x2="211.3" y2="346.52" stroke="#111" stroke-width="0.75"/>
<line x1="213.2" y1="346.09" x2="211.3" y2="346.09" stroke="#111" stroke-width="0.75"/>
<line x1="213.2" y1="345.5" x2="210" y2="345.5" stroke="#111" stroke-width="0.75"/>
<line x1="213.2" y1="340.73" x2="211.3" y2="340.73" stroke="#111" stroke-width="0.75"/>
<line x1="213.2" y1="337.83" x2="211.3" y2="337.83" stroke="#111" stroke-width="0.75"/>
<line x1="213.2" y1="335.77" x2="211.3" y2="335.77" stroke="#111" stroke-width="0.75"/>
<line x1="213.2" y1="334.17" x2="211.3" y2="334.17" stroke="#111" stroke-width="0.75"/>
<line x1="213.2" y1="332.86" x2="211.3" y2="332.86" stroke="#111" stroke-width="0.75"/>
<line x1="213.2" y1="331.76" x2="211.3" y2="331.76" stroke="#111" stroke-width="0.75"/>
<line x1="213.2" y1="330.8" x2="211.3" y2="330.8" stroke="#111" stroke-width="0.75"/>
<line x1="213.2" y1="329.95" x2="211.3" y2="329.95" stroke="#111" stroke-width="0.75"/>
<line x1="213.2" y1="329.5" x2="210" y2="329.5" stroke="#111" stroke-width="0.75"/>
<line x1="213.2" y1="324.32" x2="211.3" y2="324.32" stroke="#111" stroke-width="0.75"/>
<line x1="213.2" y1="321.47" x2="211.3" y2="321.47" stroke="#111" stroke-width="0.75"/>
<line x1="213.2" y1="319.45" x2="211.3" y2="319.45" stroke="#111" stroke-width="0.75"/>
<line x1="213.2" y1="317.88" x2="211.3" y2="317.88" stroke="#111" stroke-width="0.75"/>
<line x1="213.2" y1="316.59" x2="211.3" y2="316.59" stroke="#111" stroke-width="0.75"/>
<line x1="213.2" y1="315.51" x2="211.3" y2="315.51" stroke="#111" stroke-width="0.75"/>
<line x1="213.2" y1="314.57" x2="211.3" y2="314.57" stroke="#111" stroke-width="0.75"/>
<line x1="213.2" y1="313.74" x2="211.3" y2="313.74" stroke="#111" stroke-width="0.75"/>
<line x1="213.2" y1="313.5" x2="210" y2="313.5" stroke="#111" stroke-width="0.75"/>
<line x1="213.2" y1="308.03" x2="211.3" y2="308.03" stroke="#111" stroke-width="0.75"/>
<line x1="213.2" y1="305.13" x2="211.3" y2="305.13" stroke="#111" stroke-width="0.75"/>
<line x1="213.2" y1="303.07" x2="211.3" y2="303.07" stroke="#111" stroke-width="0.75"/>
<line x1="213.2" y1="301.47" x2="211.3" y2="301.47" stroke="#111" stroke-width="0.75"/>
<line x1="213.2" y1="300.16" x2="211.3" y2="300.16" stroke="#111" stroke-width="0.75"/>
<line x1="213.2" y1="299.06" x2="211.3" y2="299.06" stroke="#111" stroke-width="0.75"/>
<line x1="213.2" y1="298.1" x2="211.3" y2="298.1" stroke="#111" stroke-width="0.75"/>
<line x1="213.2" y1="297.25" x2="211.3" y2="297.25" stroke="#111" stroke-width="0.75"/>
<line x1="213.2" y1="296.5" x2="210" y2="296.5" stroke="#111" stroke-width="0.75"/>
<text x="216.75" y="372.75" font-size="6.6" fill="#222" color="#222" textLength="5.9" lengthAdjust="spacingAndGlyphs">10</text>
<text x="225.9" y="372.75" font-size="6.6" fill="#222" color="#222" textLength="5.9" lengthAdjust="spacingAndGlyphs">10</text>
<text x="232" y="370.3" font-size="3.4" fill="#222" color="#222" textLength="1.6" lengthAdjust="spacingAndGlyphs">2</text>
<text x="242.8" y="372.75" font-size="6.6" fill="#222" color="#222" textLength="5.9" lengthAdjust="spacingAndGlyphs">10</text>
<text x="248.9" y="370.3" font-size="3.4" fill="#222" color="#222" textLength="1.6" lengthAdjust="spacingAndGlyphs">3</text>
<text x="259.3" y="372.75" font-size="6.6" fill="#222" color="#222" textLength="5.9" lengthAdjust="spacingAndGlyphs">10</text>
<text x="265.4" y="370.3" font-size="3.4" fill="#222" color="#222" textLength="1.6" lengthAdjust="spacingAndGlyphs">4</text>
<text x="275.9" y="372.75" font-size="6.6" fill="#222" color="#222" textLength="5.9" lengthAdjust="spacingAndGlyphs">10</text>
<text x="282" y="370.3" font-size="3.4" fill="#222" color="#222" textLength="1.6" lengthAdjust="spacingAndGlyphs">5</text>
<text x="200.8" y="356.55" font-size="6.6" fill="#222" color="#222" textLength="5.9" lengthAdjust="spacingAndGlyphs">10</text>
<text x="199" y="348.05" font-size="6.6" fill="#222" color="#222" textLength="5.9" lengthAdjust="spacingAndGlyphs">10</text>
<text x="205.1" y="345.6" font-size="3.4" fill="#222" color="#222" textLength="1.6" lengthAdjust="spacingAndGlyphs">2</text>
<text x="199" y="331.55" font-size="6.6" fill="#222" color="#222" textLength="5.9" lengthAdjust="spacingAndGlyphs">10</text>
<text x="205.1" y="329.1" font-size="3.4" fill="#222" color="#222" textLength="1.6" lengthAdjust="spacingAndGlyphs">3</text>
<text x="199" y="315.35" font-size="6.6" fill="#222" color="#222" textLength="5.9" lengthAdjust="spacingAndGlyphs">10</text>
<text x="205.1" y="312.9" font-size="3.4" fill="#222" color="#222" textLength="1.6" lengthAdjust="spacingAndGlyphs">4</text>
<text x="199" y="298.85" font-size="6.6" fill="#222" color="#222" textLength="5.9" lengthAdjust="spacingAndGlyphs">10</text>
<text x="205.1" y="296.4" font-size="3.4" fill="#222" color="#222" textLength="1.6" lengthAdjust="spacingAndGlyphs">5</text>
<text x="187.2" y="293.5" font-size="10" fill="#222" color="#222" textLength="5.2" lengthAdjust="spacingAndGlyphs">b</text>
<text transform="translate(191.2 326.2) rotate(-90)" font-size="9.6" fill="#222" color="#222" text-anchor="middle" textLength="20.1" lengthAdjust="spacingAndGlyphs">CD14</text>
<text x="242.4" y="385" font-size="9.2" fill="#222" color="#222" textLength="18" lengthAdjust="spacingAndGlyphs">Gas6</text>
<text x="214.7" y="297.6" font-size="5.9" fill="#1e1e1e" color="#1e1e1e">9.03%</text>
<text x="284" y="297.6" font-size="5.9" fill="#a3303f" color="#a3303f" text-anchor="end">51.10%</text>
<text x="214.7" y="358.1" font-size="5.9" fill="#1e1e1e" color="#1e1e1e">10.77%</text>
<text x="284" y="358.1" font-size="5.9" fill="#1e1e1e" color="#1e1e1e" text-anchor="end">29.10%</text>
<path d="M248.5 310.5C250.58 310.4 253.17 311.08 254.5 313C255.83 314.92 256.25 319 256.5 322C256.75 325 255.92 328.5 256 331C256.08 333.5 256.57 334.83 257 337C257.43 339.17 258.43 341.5 258.6 344C258.77 346.5 258.93 349.83 258 352C257.07 354.17 255.17 356.13 253 357C250.83 357.87 247.33 357.87 245 357.2C242.67 356.53 240.17 355.03 239 353C237.83 350.97 237.75 347.67 238 345C238.25 342.33 240.75 339.17 240.5 337C240.25 334.83 237.65 333.92 236.5 332C235.35 330.08 233.43 327.57 233.6 325.5C233.77 323.43 236.1 321.58 237.5 319.6C238.9 317.62 240.17 315.12 242 313.6C243.83 312.08 246.42 310.6 248.5 310.5Z" stroke="#333" stroke-width="0.5" fill="none"/>
<path d="M248.43 312.19C250.36 312.09 252.75 312.73 253.99 314.5C255.22 316.28 255.61 320.06 255.84 322.84C256.07 325.62 255.3 328.87 255.38 331.18C255.45 333.5 255.9 334.74 256.3 336.74C256.7 338.75 257.63 340.91 257.79 343.23C257.94 345.55 258.09 348.64 257.23 350.64C256.37 352.65 254.6 354.47 252.6 355.28C250.59 356.08 247.35 356.08 245.18 355.46C243.02 354.84 240.7 353.45 239.62 351.57C238.54 349.69 238.47 346.63 238.7 344.16C238.93 341.69 241.24 338.75 241.01 336.74C240.78 334.74 238.37 333.89 237.31 332.11C236.24 330.33 234.46 328 234.62 326.09C234.77 324.17 236.94 322.46 238.23 320.62C239.53 318.78 240.7 316.46 242.4 315.06C244.1 313.65 246.5 312.28 248.43 312.19Z" stroke="#333" stroke-width="0.5" fill="none"/>
<path d="M248.35 313.87C250.13 313.79 252.34 314.37 253.47 316.01C254.61 317.64 254.97 321.13 255.18 323.69C255.39 326.25 254.68 329.23 254.75 331.37C254.82 333.5 255.24 334.64 255.61 336.49C255.98 338.34 256.83 340.33 256.97 342.46C257.11 344.59 257.26 347.44 256.46 349.29C255.66 351.14 254.04 352.81 252.19 353.55C250.34 354.29 247.36 354.29 245.37 353.72C243.38 353.16 241.24 351.88 240.25 350.14C239.25 348.4 239.18 345.59 239.39 343.31C239.61 341.04 241.74 338.34 241.53 336.49C241.31 334.64 239.09 333.86 238.11 332.22C237.13 330.58 235.5 328.44 235.64 326.67C235.78 324.91 237.77 323.33 238.97 321.64C240.16 319.95 241.24 317.81 242.81 316.52C244.37 315.22 246.58 313.96 248.35 313.87Z" stroke="#333" stroke-width="0.5" fill="none"/>
<path d="M248.28 315.56C249.91 315.48 251.92 316.01 252.96 317.51C254 319 254.33 322.19 254.52 324.53C254.72 326.87 254.06 329.6 254.13 331.55C254.19 333.5 254.57 334.54 254.91 336.23C255.25 337.92 256.03 339.74 256.16 341.69C256.29 343.64 256.42 346.24 255.69 347.93C254.96 349.62 253.48 351.15 251.79 351.83C250.1 352.51 247.37 352.51 245.55 351.99C243.73 351.47 241.78 350.3 240.87 348.71C239.96 347.12 239.9 344.55 240.09 342.47C240.28 340.39 242.23 337.92 242.04 336.23C241.84 334.54 239.82 333.82 238.92 332.33C238.02 330.83 236.53 328.87 236.66 327.26C236.79 325.65 238.61 324.21 239.7 322.66C240.79 321.11 241.78 319.16 243.21 317.98C244.64 316.8 246.66 315.64 248.28 315.56Z" stroke="#333" stroke-width="0.5" fill="none"/>
<path d="M255.64 323C255.64 324.74 255.29 326.71 254.72 328.22C254.15 329.73 253.21 331.17 252.22 332.04C251.23 332.91 249.94 333.44 248.8 333.44C247.66 333.44 246.37 332.91 245.38 332.04C244.39 331.17 243.45 329.73 242.88 328.22C242.31 326.71 241.96 324.74 241.96 323C241.96 321.26 242.31 319.29 242.88 317.78C243.45 316.27 244.39 314.83 245.38 313.96C246.37 313.09 247.66 312.56 248.8 312.56C249.94 312.56 251.23 313.09 252.22 313.96C253.21 314.83 254.15 316.27 254.72 317.78C255.29 319.29 255.64 321.26 255.64 323Z" fill="#1a1a1a"/>
<path d="M256.4 323C256.4 324.93 256.02 327.13 255.38 328.8C254.75 330.47 253.7 332.08 252.6 333.05C251.5 334.01 250.07 334.6 248.8 334.6C247.53 334.6 246.1 334.01 245 333.05C243.9 332.08 242.85 330.47 242.22 328.8C241.58 327.13 241.2 324.93 241.2 323C241.2 321.07 241.58 318.87 242.22 317.2C242.85 315.53 243.9 313.92 245 312.95C246.1 311.99 247.53 311.4 248.8 311.4C250.07 311.4 251.5 311.99 252.6 312.95C253.7 313.92 254.75 315.53 255.38 317.2C256.02 318.87 256.4 321.07 256.4 323Z" stroke="#2a2a2a" stroke-width="0.55" fill="none"/>
<path d="M255.87 323C255.87 324.8 255.51 326.84 254.92 328.39C254.33 329.95 253.35 331.44 252.33 332.34C251.31 333.24 249.98 333.79 248.8 333.79C247.62 333.79 246.29 333.24 245.27 332.34C244.25 331.44 243.27 329.95 242.68 328.39C242.09 326.84 241.73 324.8 241.73 323C241.73 321.2 242.09 319.16 242.68 317.61C243.27 316.05 244.25 314.56 245.27 313.66C246.29 312.76 247.62 312.21 248.8 312.21C249.98 312.21 251.31 312.76 252.33 313.66C253.35 314.56 254.33 316.05 254.92 317.61C255.51 319.16 255.87 321.2 255.87 323Z" stroke="#2a2a2a" stroke-width="0.55" fill="none"/>
<path d="M255.34 323C255.34 324.66 255.01 326.55 254.46 327.99C253.92 329.43 253.01 330.81 252.07 331.64C251.12 332.47 249.89 332.98 248.8 332.98C247.71 332.98 246.48 332.47 245.53 331.64C244.59 330.81 243.68 329.43 243.14 327.99C242.59 326.55 242.26 324.66 242.26 323C242.26 321.34 242.59 319.45 243.14 318.01C243.68 316.57 244.59 315.19 245.53 314.36C246.48 313.53 247.71 313.02 248.8 313.02C249.89 313.02 251.12 313.53 252.07 314.36C253.01 315.19 253.92 316.57 254.46 318.01C255.01 319.45 255.34 321.34 255.34 323Z" stroke="#2a2a2a" stroke-width="0.55" fill="none"/>
<path d="M254.09 348.8C254.09 349.83 253.75 350.99 253.19 351.88C252.63 352.77 251.71 353.62 250.74 354.13C249.78 354.65 248.51 354.96 247.4 354.96C246.29 354.96 245.02 354.65 244.06 354.13C243.09 353.62 242.17 352.77 241.61 351.88C241.05 350.99 240.71 349.83 240.71 348.8C240.71 347.77 241.05 346.61 241.61 345.72C242.17 344.83 243.09 343.98 244.06 343.47C245.02 342.95 246.29 342.64 247.4 342.64C248.51 342.64 249.78 342.95 250.74 343.47C251.71 343.98 252.63 344.83 253.19 345.72C253.75 346.61 254.09 347.77 254.09 348.8Z" fill="#1a1a1a"/>
<path d="M255 348.8C255 349.97 254.62 351.29 253.98 352.3C253.35 353.31 252.3 354.28 251.2 354.86C250.1 355.45 248.67 355.8 247.4 355.8C246.13 355.8 244.7 355.45 243.6 354.86C242.5 354.28 241.45 353.31 240.82 352.3C240.18 351.29 239.8 349.97 239.8 348.8C239.8 347.63 240.18 346.31 240.82 345.3C241.45 344.29 242.5 343.32 243.6 342.74C244.7 342.15 246.13 341.8 247.4 341.8C248.67 341.8 250.1 342.15 251.2 342.74C252.3 343.32 253.35 344.29 253.98 345.3C254.62 346.31 255 347.63 255 348.8Z" stroke="#2a2a2a" stroke-width="0.55" fill="none"/>
<path d="M254.39 348.8C254.39 349.87 254.04 351.09 253.46 352.02C252.87 352.95 251.91 353.84 250.9 354.38C249.89 354.91 248.57 355.24 247.4 355.24C246.23 355.24 244.91 354.91 243.9 354.38C242.89 353.84 241.93 352.95 241.34 352.02C240.76 351.09 240.41 349.87 240.41 348.8C240.41 347.73 240.76 346.51 241.34 345.58C241.93 344.65 242.89 343.76 243.9 343.22C244.91 342.69 246.23 342.36 247.4 342.36C248.57 342.36 249.89 342.69 250.9 343.22C251.91 343.76 252.87 344.65 253.46 345.58C254.04 346.51 254.39 347.73 254.39 348.8Z" stroke="#2a2a2a" stroke-width="0.55" fill="none"/>
<path d="M253.78 348.8C253.78 349.78 253.46 350.89 252.93 351.74C252.4 352.59 251.51 353.4 250.59 353.89C249.67 354.38 248.46 354.68 247.4 354.68C246.34 354.68 245.13 354.38 244.21 353.89C243.29 353.4 242.4 352.59 241.87 351.74C241.34 350.89 241.02 349.78 241.02 348.8C241.02 347.82 241.34 346.71 241.87 345.86C242.4 345.01 243.29 344.2 244.21 343.71C245.13 343.22 246.34 342.92 247.4 342.92C248.46 342.92 249.67 343.22 250.59 343.71C251.51 344.2 252.4 345.01 252.93 345.86C253.46 346.71 253.78 347.82 253.78 348.8Z" stroke="#2a2a2a" stroke-width="0.55" fill="none"/>
<path d="M247.3 333C249.22 333 251.8 335.17 253 337C254.2 338.83 255.45 343.25 254.5 344C253.55 344.75 249.63 341.5 247.3 341.5C244.97 341.5 241.47 344.75 240.5 344C239.53 343.25 240.37 338.83 241.5 337C242.63 335.17 245.38 333 247.3 333Z" stroke="#444" stroke-width="0.5" fill="none"/>
<ellipse cx="249" cy="318" rx="0.9" ry="2.2" fill="#aaa"/>
<ellipse cx="245.5" cy="349" rx="2.2" ry="1.2" fill="#666"/>
<line x1="367.5" y1="290.6" x2="367.5" y2="360.8" stroke="#555" stroke-width="1"/>
<line x1="332.6" y1="329.5" x2="408.3" y2="329.5" stroke="#555" stroke-width="1"/>
<line x1="332.6" y1="290.5" x2="408.3" y2="290.5" stroke="#1a1a1a" stroke-width="1.1"/>
<line x1="408.5" y1="290.6" x2="408.5" y2="360.8" stroke="#1a1a1a" stroke-width="1.1"/>
<line x1="332.6" y1="290.1" x2="332.6" y2="361.5" stroke="#111" stroke-width="1.5"/>
<line x1="331.9" y1="360.8" x2="408.8" y2="360.8" stroke="#111" stroke-width="1.5"/>
<line x1="338.5" y1="360.8" x2="338.5" y2="363.8" stroke="#111" stroke-width="0.75"/>
<line x1="341.7" y1="360.8" x2="341.7" y2="362.5" stroke="#111" stroke-width="0.75"/>
<line x1="343.34" y1="360.8" x2="343.34" y2="362.5" stroke="#111" stroke-width="0.75"/>
<line x1="344.5" y1="360.8" x2="344.5" y2="362.5" stroke="#111" stroke-width="0.75"/>
<line x1="345.4" y1="360.8" x2="345.4" y2="362.5" stroke="#111" stroke-width="0.75"/>
<line x1="346.14" y1="360.8" x2="346.14" y2="362.5" stroke="#111" stroke-width="0.75"/>
<line x1="346.76" y1="360.8" x2="346.76" y2="362.5" stroke="#111" stroke-width="0.75"/>
<line x1="347.3" y1="360.8" x2="347.3" y2="362.5" stroke="#111" stroke-width="0.75"/>
<line x1="347.77" y1="360.8" x2="347.77" y2="362.5" stroke="#111" stroke-width="0.75"/>
<line x1="348.5" y1="360.8" x2="348.5" y2="363.8" stroke="#111" stroke-width="0.75"/>
<line x1="353.95" y1="360.8" x2="353.95" y2="362.5" stroke="#111" stroke-width="0.75"/>
<line x1="357.31" y1="360.8" x2="357.31" y2="362.5" stroke="#111" stroke-width="0.75"/>
<line x1="359.7" y1="360.8" x2="359.7" y2="362.5" stroke="#111" stroke-width="0.75"/>
<line x1="361.55" y1="360.8" x2="361.55" y2="362.5" stroke="#111" stroke-width="0.75"/>
<line x1="363.06" y1="360.8" x2="363.06" y2="362.5" stroke="#111" stroke-width="0.75"/>
<line x1="364.34" y1="360.8" x2="364.34" y2="362.5" stroke="#111" stroke-width="0.75"/>
<line x1="365.45" y1="360.8" x2="365.45" y2="362.5" stroke="#111" stroke-width="0.75"/>
<line x1="366.43" y1="360.8" x2="366.43" y2="362.5" stroke="#111" stroke-width="0.75"/>
<line x1="367.5" y1="360.8" x2="367.5" y2="363.8" stroke="#111" stroke-width="0.75"/>
<line x1="371.91" y1="360.8" x2="371.91" y2="362.5" stroke="#111" stroke-width="0.75"/>
<line x1="374.6" y1="360.8" x2="374.6" y2="362.5" stroke="#111" stroke-width="0.75"/>
<line x1="376.51" y1="360.8" x2="376.51" y2="362.5" stroke="#111" stroke-width="0.75"/>
<line x1="377.99" y1="360.8" x2="377.99" y2="362.5" stroke="#111" stroke-width="0.75"/>
<line x1="379.21" y1="360.8" x2="379.21" y2="362.5" stroke="#111" stroke-width="0.75"/>
<line x1="380.23" y1="360.8" x2="380.23" y2="362.5" stroke="#111" stroke-width="0.75"/>
<line x1="381.12" y1="360.8" x2="381.12" y2="362.5" stroke="#111" stroke-width="0.75"/>
<line x1="381.9" y1="360.8" x2="381.9" y2="362.5" stroke="#111" stroke-width="0.75"/>
<line x1="382.5" y1="360.8" x2="382.5" y2="363.8" stroke="#111" stroke-width="0.75"/>
<line x1="387.93" y1="360.8" x2="387.93" y2="362.5" stroke="#111" stroke-width="0.75"/>
<line x1="391.05" y1="360.8" x2="391.05" y2="362.5" stroke="#111" stroke-width="0.75"/>
<line x1="393.26" y1="360.8" x2="393.26" y2="362.5" stroke="#111" stroke-width="0.75"/>
<line x1="394.97" y1="360.8" x2="394.97" y2="362.5" stroke="#111" stroke-width="0.75"/>
<line x1="396.37" y1="360.8" x2="396.37" y2="362.5" stroke="#111" stroke-width="0.75"/>
<line x1="397.56" y1="360.8" x2="397.56" y2="362.5" stroke="#111" stroke-width="0.75"/>
<line x1="398.58" y1="360.8" x2="398.58" y2="362.5" stroke="#111" stroke-width="0.75"/>
<line x1="399.49" y1="360.8" x2="399.49" y2="362.5" stroke="#111" stroke-width="0.75"/>
<line x1="400.5" y1="360.8" x2="400.5" y2="363.8" stroke="#111" stroke-width="0.75"/>
<line x1="332.6" y1="354.5" x2="329.4" y2="354.5" stroke="#111" stroke-width="0.75"/>
<line x1="332.6" y1="351.64" x2="330.7" y2="351.64" stroke="#111" stroke-width="0.75"/>
<line x1="332.6" y1="350.14" x2="330.7" y2="350.14" stroke="#111" stroke-width="0.75"/>
<line x1="332.6" y1="349.08" x2="330.7" y2="349.08" stroke="#111" stroke-width="0.75"/>
<line x1="332.6" y1="348.26" x2="330.7" y2="348.26" stroke="#111" stroke-width="0.75"/>
<line x1="332.6" y1="347.59" x2="330.7" y2="347.59" stroke="#111" stroke-width="0.75"/>
<line x1="332.6" y1="347.02" x2="330.7" y2="347.02" stroke="#111" stroke-width="0.75"/>
<line x1="332.6" y1="346.52" x2="330.7" y2="346.52" stroke="#111" stroke-width="0.75"/>
<line x1="332.6" y1="346.09" x2="330.7" y2="346.09" stroke="#111" stroke-width="0.75"/>
<line x1="332.6" y1="345.5" x2="329.4" y2="345.5" stroke="#111" stroke-width="0.75"/>
<line x1="332.6" y1="340.82" x2="330.7" y2="340.82" stroke="#111" stroke-width="0.75"/>
<line x1="332.6" y1="337.97" x2="330.7" y2="337.97" stroke="#111" stroke-width="0.75"/>
<line x1="332.6" y1="335.95" x2="330.7" y2="335.95" stroke="#111" stroke-width="0.75"/>
<line x1="332.6" y1="334.38" x2="330.7" y2="334.38" stroke="#111" stroke-width="0.75"/>
<line x1="332.6" y1="333.09" x2="330.7" y2="333.09" stroke="#111" stroke-width="0.75"/>
<line x1="332.6" y1="332.01" x2="330.7" y2="332.01" stroke="#111" stroke-width="0.75"/>
<line x1="332.6" y1="331.07" x2="330.7" y2="331.07" stroke="#111" stroke-width="0.75"/>
<line x1="332.6" y1="330.24" x2="330.7" y2="330.24" stroke="#111" stroke-width="0.75"/>
<line x1="332.6" y1="329.5" x2="329.4" y2="329.5" stroke="#111" stroke-width="0.75"/>
<line x1="332.6" y1="324.74" x2="330.7" y2="324.74" stroke="#111" stroke-width="0.75"/>
<line x1="332.6" y1="321.96" x2="330.7" y2="321.96" stroke="#111" stroke-width="0.75"/>
<line x1="332.6" y1="319.99" x2="330.7" y2="319.99" stroke="#111" stroke-width="0.75"/>
<line x1="332.6" y1="318.46" x2="330.7" y2="318.46" stroke="#111" stroke-width="0.75"/>
<line x1="332.6" y1="317.21" x2="330.7" y2="317.21" stroke="#111" stroke-width="0.75"/>
<line x1="332.6" y1="316.15" x2="330.7" y2="316.15" stroke="#111" stroke-width="0.75"/>
<line x1="332.6" y1="315.23" x2="330.7" y2="315.23" stroke="#111" stroke-width="0.75"/>
<line x1="332.6" y1="314.42" x2="330.7" y2="314.42" stroke="#111" stroke-width="0.75"/>
<line x1="332.6" y1="313.5" x2="329.4" y2="313.5" stroke="#111" stroke-width="0.75"/>
<line x1="332.6" y1="308.82" x2="330.7" y2="308.82" stroke="#111" stroke-width="0.75"/>
<line x1="332.6" y1="305.97" x2="330.7" y2="305.97" stroke="#111" stroke-width="0.75"/>
<line x1="332.6" y1="303.95" x2="330.7" y2="303.95" stroke="#111" stroke-width="0.75"/>
<line x1="332.6" y1="302.38" x2="330.7" y2="302.38" stroke="#111" stroke-width="0.75"/>
<line x1="332.6" y1="301.09" x2="330.7" y2="301.09" stroke="#111" stroke-width="0.75"/>
<line x1="332.6" y1="300.01" x2="330.7" y2="300.01" stroke="#111" stroke-width="0.75"/>
<line x1="332.6" y1="299.07" x2="330.7" y2="299.07" stroke="#111" stroke-width="0.75"/>
<line x1="332.6" y1="298.24" x2="330.7" y2="298.24" stroke="#111" stroke-width="0.75"/>
<line x1="332.6" y1="297.5" x2="329.4" y2="297.5" stroke="#111" stroke-width="0.75"/>
<text x="335.95" y="372.75" font-size="6.6" fill="#222" color="#222" textLength="5.9" lengthAdjust="spacingAndGlyphs">10</text>
<text x="345.2" y="372.75" font-size="6.6" fill="#222" color="#222" textLength="5.9" lengthAdjust="spacingAndGlyphs">10</text>
<text x="351.3" y="370.3" font-size="3.4" fill="#222" color="#222" textLength="1.6" lengthAdjust="spacingAndGlyphs">2</text>
<text x="362.6" y="372.75" font-size="6.6" fill="#222" color="#222" textLength="5.9" lengthAdjust="spacingAndGlyphs">10</text>
<text x="368.7" y="370.3" font-size="3.4" fill="#222" color="#222" textLength="1.6" lengthAdjust="spacingAndGlyphs">3</text>
<text x="379.3" y="372.75" font-size="6.6" fill="#222" color="#222" textLength="5.9" lengthAdjust="spacingAndGlyphs">10</text>
<text x="385.4" y="370.3" font-size="3.4" fill="#222" color="#222" textLength="1.6" lengthAdjust="spacingAndGlyphs">4</text>
<text x="397" y="372.75" font-size="6.6" fill="#222" color="#222" textLength="5.9" lengthAdjust="spacingAndGlyphs">10</text>
<text x="403.1" y="370.3" font-size="3.4" fill="#222" color="#222" textLength="1.6" lengthAdjust="spacingAndGlyphs">5</text>
<text x="320.7" y="356.55" font-size="6.6" fill="#222" color="#222" textLength="5.9" lengthAdjust="spacingAndGlyphs">10</text>
<text x="318.9" y="348.05" font-size="6.6" fill="#222" color="#222" textLength="5.9" lengthAdjust="spacingAndGlyphs">10</text>
<text x="325" y="345.6" font-size="3.4" fill="#222" color="#222" textLength="1.6" lengthAdjust="spacingAndGlyphs">2</text>
<text x="318.9" y="331.85" font-size="6.6" fill="#222" color="#222" textLength="5.9" lengthAdjust="spacingAndGlyphs">10</text>
<text x="325" y="329.4" font-size="3.4" fill="#222" color="#222" textLength="1.6" lengthAdjust="spacingAndGlyphs">3</text>
<text x="318.9" y="316.05" font-size="6.6" fill="#222" color="#222" textLength="5.9" lengthAdjust="spacingAndGlyphs">10</text>
<text x="325" y="313.6" font-size="3.4" fill="#222" color="#222" textLength="1.6" lengthAdjust="spacingAndGlyphs">4</text>
<text x="318.9" y="299.85" font-size="6.6" fill="#222" color="#222" textLength="5.9" lengthAdjust="spacingAndGlyphs">10</text>
<text x="325" y="297.4" font-size="3.4" fill="#222" color="#222" textLength="1.6" lengthAdjust="spacingAndGlyphs">5</text>
<text x="307.4" y="293.5" font-size="10" fill="#222" color="#222" textLength="4.3" lengthAdjust="spacingAndGlyphs">c</text>
<text transform="translate(311 325.7) rotate(-90)" font-size="9.6" fill="#222" color="#222" text-anchor="middle" textLength="20" lengthAdjust="spacingAndGlyphs">CD19</text>
<text x="361.6" y="385" font-size="9.2" fill="#222" color="#222" textLength="18" lengthAdjust="spacingAndGlyphs">Gas6</text>
<text x="334.6" y="297.6" font-size="5.9" fill="#1e1e1e" color="#1e1e1e">87.50%</text>
<text x="401.8" y="297.6" font-size="5.9" fill="#a3303f" color="#a3303f" text-anchor="end">1.73%</text>
<text x="334.6" y="358.1" font-size="5.9" fill="#1e1e1e" color="#1e1e1e">10.77%</text>
<text x="401.8" y="358.1" font-size="5.9" fill="#1e1e1e" color="#1e1e1e" text-anchor="end">0.00%</text>
<path d="M349.84 325.7C350.31 326.9 352.33 328.92 353.74 329.36C355.16 329.81 356.81 329.13 358.33 328.37C359.85 327.61 361.44 326.51 362.86 324.77C364.27 323.04 366.44 319.6 366.82 317.95C367.21 316.31 366.04 315.38 365.15 314.92C364.26 314.45 363.32 314.51 361.49 315.16C359.66 315.81 355.94 317.65 354.18 318.82C352.41 319.99 351.61 321.02 350.89 322.17C350.17 323.32 349.36 324.51 349.84 325.7Z" fill="#363636"/>
<ellipse cx="363.5" cy="317.0" rx="6.0" ry="3.6" transform="rotate(-40 363.5 317.0)" fill="#161616"/>
<path d="M351.9 324.6C352.28 325.57 353.91 327.19 355.05 327.55C356.19 327.91 357.52 327.37 358.75 326.75C359.98 326.13 361.26 325.25 362.4 323.85C363.54 322.45 365.29 319.68 365.6 318.35C365.91 317.03 364.97 316.27 364.25 315.9C363.53 315.52 362.78 315.58 361.3 316.1C359.82 316.62 356.82 318.11 355.4 319.05C353.97 319.99 353.33 320.82 352.75 321.75C352.17 322.68 351.52 323.63 351.9 324.6Z" stroke="#888" stroke-width="0.5" fill="none"/>
<path d="M353.96 323.5C354.26 324.23 355.49 325.47 356.36 325.74C357.23 326.01 358.24 325.6 359.17 325.13C360.1 324.66 361.08 323.99 361.94 322.93C362.81 321.86 364.14 319.75 364.38 318.75C364.61 317.74 363.89 317.17 363.35 316.88C362.81 316.6 362.23 316.64 361.11 317.04C359.99 317.44 357.71 318.56 356.62 319.28C355.54 319.99 355.05 320.63 354.61 321.33C354.17 322.03 353.67 322.76 353.96 323.5Z" stroke="#777" stroke-width="0.5" fill="none"/>
<path d="M343.3 329.2C344.07 331.13 347.32 334.38 349.6 335.1C351.88 335.82 354.55 334.73 357 333.5C359.45 332.27 362.02 330.5 364.3 327.7C366.58 324.9 370.08 319.35 370.7 316.7C371.32 314.05 369.43 312.55 368 311.8C366.57 311.05 365.05 311.15 362.1 312.2C359.15 313.25 353.15 316.22 350.3 318.1C347.45 319.98 346.17 321.65 345 323.5C343.83 325.35 342.53 327.27 343.3 329.2Z" stroke="#1e1e1e" stroke-width="0.6" fill="none"/>
<path d="M345.36 328.1C346.04 329.8 348.9 332.66 350.91 333.29C352.92 333.92 355.26 332.97 357.42 331.88C359.58 330.79 361.83 329.24 363.84 326.78C365.85 324.31 368.93 319.43 369.48 317.1C370.02 314.76 368.36 313.44 367.1 312.78C365.84 312.12 364.5 312.21 361.91 313.14C359.31 314.06 354.03 316.67 351.52 318.33C349.02 319.99 347.89 321.45 346.86 323.08C345.83 324.71 344.69 326.39 345.36 328.1Z" stroke="#1e1e1e" stroke-width="0.6" fill="none"/>
<path d="M347.26 327.08C347.85 328.57 350.35 331.08 352.11 331.63C353.87 332.18 355.92 331.34 357.81 330.39C359.69 329.45 361.67 328.08 363.43 325.93C365.18 323.77 367.88 319.5 368.35 317.46C368.83 315.42 367.38 314.26 366.27 313.69C365.17 313.11 364 313.19 361.73 313.99C359.46 314.8 354.84 317.09 352.65 318.54C350.45 319.99 349.46 321.27 348.56 322.69C347.67 324.12 346.67 325.6 347.26 327.08Z" stroke="#1e1e1e" stroke-width="0.6" fill="none"/>
<path d="M348.8 326.26C349.33 327.57 351.54 329.78 353.09 330.27C354.64 330.76 356.45 330.02 358.12 329.18C359.79 328.34 361.53 327.14 363.08 325.24C364.64 323.33 367.02 319.56 367.44 317.76C367.86 315.95 366.57 314.93 365.6 314.42C364.63 313.91 363.59 313.98 361.59 314.7C359.58 315.41 355.5 317.43 353.56 318.71C351.63 319.99 350.75 321.12 349.96 322.38C349.17 323.64 348.28 324.94 348.8 326.26Z" stroke="#1e1e1e" stroke-width="0.6" fill="none"/>
<ellipse cx="359.5" cy="321.5" rx="1.1" ry="0.8" fill="#f4f4f4"/>
<text x="7.3" y="407.3" font-size="11.3" fill="#222" color="#222" style="stroke-width:0">F</text>
<rect x="62" y="419.7" width="6" height="5.8" fill="#4e6180"/>
<rect x="62" y="429.5" width="6" height="5.9" fill="#a03442"/>
<text x="70.3" y="424.8" font-size="7" fill="#222" color="#222" textLength="46.4" lengthAdjust="spacingAndGlyphs">Grade 0-I aGVHD</text>
<text x="70.3" y="434.9" font-size="7" fill="#222" color="#222" textLength="50.7" lengthAdjust="spacingAndGlyphs">Grade II-IV aGVHD</text>
<text x="19.7" y="449.8" font-size="10" fill="#222" color="#222" textLength="4.5" lengthAdjust="spacingAndGlyphs">a</text>
<line x1="48.5" y1="455.4" x2="48.5" y2="532.6" stroke="#1e1e1e" stroke-width="1.3"/>
<line x1="48.3" y1="532.5" x2="86.1" y2="532.5" stroke="#1e1e1e" stroke-width="1.3"/>
<line x1="45.7" y1="532.5" x2="48.9" y2="532.5" stroke="#1e1e1e" stroke-width="1"/>
<text x="43.3" y="534.3" font-size="6.4" fill="#222" color="#222" text-anchor="end">0</text>
<line x1="45.7" y1="513.5" x2="48.9" y2="513.5" stroke="#1e1e1e" stroke-width="1"/>
<text x="43.3" y="515.95" font-size="6.4" fill="#222" color="#222" text-anchor="end">100</text>
<line x1="45.7" y1="495.5" x2="48.9" y2="495.5" stroke="#1e1e1e" stroke-width="1"/>
<text x="43.3" y="497.6" font-size="6.4" fill="#222" color="#222" text-anchor="end">200</text>
<line x1="45.7" y1="476.5" x2="48.9" y2="476.5" stroke="#1e1e1e" stroke-width="1"/>
<text x="43.3" y="479.25" font-size="6.4" fill="#222" color="#222" text-anchor="end">300</text>
<line x1="45.7" y1="458.5" x2="48.9" y2="458.5" stroke="#1e1e1e" stroke-width="1"/>
<text x="43.3" y="460.9" font-size="6.4" fill="#222" color="#222" text-anchor="end">400</text>
<line x1="58.75" y1="492" x2="58.75" y2="488.2" stroke="#666" stroke-width="1.3"/>
<line x1="56.6" y1="488" x2="60.9" y2="488" stroke="#3a3a3a" stroke-width="1.5"/>
<rect x="54.5" y="492" width="8.5" height="39.5" fill="#4e6180"/>
<rect x="54.5" y="492" width="0.8" height="39.5" fill="#40557a"/>
<rect x="62.2" y="492" width="0.8" height="39.5" fill="#40557a"/>
<line x1="78.6" y1="480" x2="78.6" y2="477.1" stroke="#666" stroke-width="1.3"/>
<line x1="76.45" y1="476.9" x2="80.75" y2="476.9" stroke="#3a3a3a" stroke-width="1.5"/>
<rect x="74.2" y="480" width="8.8" height="51.5" fill="#a03442"/>
<rect x="74.2" y="480" width="0.8" height="51.5" fill="#93283a"/>
<rect x="82.2" y="480" width="0.8" height="51.5" fill="#93283a"/>
<path d="M60.5 469.7V466.5H77.5V469.7" stroke="#333" stroke-width="0.9" fill="none"/>
<circle cx="68.5" cy="462.6" r="1.05" fill="#3a3a3a"/>
<text transform="translate(25.5 493.5) rotate(-90)" font-size="8.5" fill="#222" color="#222" text-anchor="middle" textLength="36" lengthAdjust="spacingAndGlyphs">LDH (U/L)</text>
<text x="100.7" y="449.7" font-size="10" fill="#222" color="#222" textLength="5.2" lengthAdjust="spacingAndGlyphs">b</text>
<line x1="126.5" y1="468.5" x2="126.5" y2="532.6" stroke="#1e1e1e" stroke-width="1.3"/>
<line x1="126.2" y1="532.5" x2="160.8" y2="532.5" stroke="#1e1e1e" stroke-width="1.3"/>
<line x1="123.6" y1="532.5" x2="126.8" y2="532.5" stroke="#1e1e1e" stroke-width="1"/>
<text x="120.5" y="534.3" font-size="6.4" fill="#222" color="#222" text-anchor="end">0</text>
<line x1="123.6" y1="512.5" x2="126.8" y2="512.5" stroke="#1e1e1e" stroke-width="1"/>
<text x="120.5" y="514.3" font-size="6.4" fill="#222" color="#222" text-anchor="end">0.5</text>
<line x1="123.6" y1="492.5" x2="126.8" y2="492.5" stroke="#1e1e1e" stroke-width="1"/>
<text x="120.5" y="494.3" font-size="6.4" fill="#222" color="#222" text-anchor="end">1</text>
<line x1="123.6" y1="472.5" x2="126.8" y2="472.5" stroke="#1e1e1e" stroke-width="1"/>
<text x="120.5" y="474.3" font-size="6.4" fill="#222" color="#222" text-anchor="end">1.5</text>
<line x1="135.75" y1="503.4" x2="135.75" y2="501.7" stroke="#666" stroke-width="1.3"/>
<line x1="133.6" y1="501.5" x2="137.9" y2="501.5" stroke="#3a3a3a" stroke-width="1.5"/>
<rect x="131.5" y="503.4" width="8.5" height="28.1" fill="#4e6180"/>
<rect x="131.5" y="503.4" width="0.8" height="28.1" fill="#40557a"/>
<rect x="139.2" y="503.4" width="0.8" height="28.1" fill="#40557a"/>
<line x1="153.6" y1="481.2" x2="153.6" y2="476.7" stroke="#666" stroke-width="1.3"/>
<line x1="151.45" y1="476.5" x2="155.75" y2="476.5" stroke="#3a3a3a" stroke-width="1.5"/>
<rect x="149.2" y="481.2" width="8.8" height="50.3" fill="#a03442"/>
<rect x="149.2" y="481.2" width="0.8" height="50.3" fill="#93283a"/>
<rect x="157.2" y="481.2" width="0.8" height="50.3" fill="#93283a"/>
<path d="M137.5 467.7V464.5H153.5V467.7" stroke="#333" stroke-width="0.9" fill="none"/>
<circle cx="144.7" cy="460.1" r="1.05" fill="#3a3a3a"/>
<text transform="translate(104.7 500) rotate(-90)" font-size="8.5" fill="#222" color="#222" text-anchor="middle" textLength="67" lengthAdjust="spacingAndGlyphs">Creatinine (ng/dL)</text>
<text x="20.6" y="564" font-size="10" fill="#222" color="#222" textLength="4.3" lengthAdjust="spacingAndGlyphs">c</text>
<line x1="49.5" y1="570" x2="49.5" y2="636" stroke="#1e1e1e" stroke-width="1.3"/>
<line x1="48.6" y1="635.5" x2="86.1" y2="635.5" stroke="#1e1e1e" stroke-width="1.3"/>
<line x1="46" y1="635.5" x2="49.2" y2="635.5" stroke="#1e1e1e" stroke-width="1"/>
<text x="44" y="637.7" font-size="6.4" fill="#222" color="#222" text-anchor="end">0</text>
<line x1="46" y1="619.5" x2="49.2" y2="619.5" stroke="#1e1e1e" stroke-width="1"/>
<text x="44" y="622.1" font-size="6.4" fill="#222" color="#222" text-anchor="end">20</text>
<line x1="46" y1="604.5" x2="49.2" y2="604.5" stroke="#1e1e1e" stroke-width="1"/>
<text x="44" y="606.5" font-size="6.4" fill="#222" color="#222" text-anchor="end">40</text>
<line x1="46" y1="588.5" x2="49.2" y2="588.5" stroke="#1e1e1e" stroke-width="1"/>
<text x="44" y="590.9" font-size="6.4" fill="#222" color="#222" text-anchor="end">60</text>
<line x1="46" y1="573.5" x2="49.2" y2="573.5" stroke="#1e1e1e" stroke-width="1"/>
<text x="44" y="575.3" font-size="6.4" fill="#222" color="#222" text-anchor="end">80</text>
<line x1="59.85" y1="614.3" x2="59.85" y2="611.7" stroke="#666" stroke-width="1.3"/>
<line x1="57.7" y1="611.5" x2="62" y2="611.5" stroke="#3a3a3a" stroke-width="1.5"/>
<rect x="55.8" y="614.3" width="8.1" height="20.6" fill="#4e6180"/>
<rect x="55.8" y="614.3" width="0.8" height="20.6" fill="#40557a"/>
<rect x="63.1" y="614.3" width="0.8" height="20.6" fill="#40557a"/>
<line x1="80.35" y1="588.5" x2="80.35" y2="581" stroke="#666" stroke-width="1.3"/>
<line x1="78.2" y1="580.8" x2="82.5" y2="580.8" stroke="#3a3a3a" stroke-width="1.5"/>
<rect x="76.2" y="588.5" width="8.3" height="46.4" fill="#a03442"/>
<rect x="76.2" y="588.5" width="0.8" height="46.4" fill="#93283a"/>
<rect x="83.7" y="588.5" width="0.8" height="46.4" fill="#93283a"/>
<path d="M60.5 578.7V575.5H78.5V578.7" stroke="#333" stroke-width="0.9" fill="none"/>
<circle cx="69.6" cy="572.1" r="1.05" fill="#3a3a3a"/>
<text transform="translate(29.2 602.8) rotate(-90)" font-size="8.5" fill="#222" color="#222" text-anchor="middle" textLength="54.5" lengthAdjust="spacingAndGlyphs">Platelet (10<tspan font-size="5" dy="-2.5">9</tspan><tspan dy="2.5">/L)</tspan></text>
<text x="100.5" y="564" font-size="10" fill="#222" color="#222" textLength="5" lengthAdjust="spacingAndGlyphs">d</text>
<line x1="126.5" y1="570" x2="126.5" y2="636.3" stroke="#1e1e1e" stroke-width="1.3"/>
<line x1="125.9" y1="635.5" x2="163.5" y2="635.5" stroke="#1e1e1e" stroke-width="1.3"/>
<line x1="123.3" y1="635.5" x2="126.5" y2="635.5" stroke="#1e1e1e" stroke-width="1"/>
<text x="120.5" y="638" font-size="6.4" fill="#222" color="#222" text-anchor="end">0</text>
<line x1="123.3" y1="620.5" x2="126.5" y2="620.5" stroke="#1e1e1e" stroke-width="1"/>
<text x="120.5" y="622.4" font-size="6.4" fill="#222" color="#222" text-anchor="end">2</text>
<line x1="123.3" y1="604.5" x2="126.5" y2="604.5" stroke="#1e1e1e" stroke-width="1"/>
<text x="120.5" y="606.8" font-size="6.4" fill="#222" color="#222" text-anchor="end">4</text>
<line x1="123.3" y1="588.5" x2="126.5" y2="588.5" stroke="#1e1e1e" stroke-width="1"/>
<text x="120.5" y="591.2" font-size="6.4" fill="#222" color="#222" text-anchor="end">6</text>
<line x1="123.3" y1="573.5" x2="126.5" y2="573.5" stroke="#1e1e1e" stroke-width="1"/>
<text x="120.5" y="575.6" font-size="6.4" fill="#222" color="#222" text-anchor="end">8</text>
<line x1="136.15" y1="617.2" x2="136.15" y2="607" stroke="#666" stroke-width="1.3"/>
<line x1="134" y1="606.8" x2="138.3" y2="606.8" stroke="#3a3a3a" stroke-width="1.5"/>
<rect x="131.9" y="617.2" width="8.5" height="18" fill="#4e6180"/>
<rect x="131.9" y="617.2" width="0.8" height="18" fill="#40557a"/>
<rect x="139.6" y="617.2" width="0.8" height="18" fill="#40557a"/>
<line x1="155.75" y1="591.5" x2="155.75" y2="582" stroke="#666" stroke-width="1.3"/>
<line x1="153.6" y1="581.8" x2="157.9" y2="581.8" stroke="#3a3a3a" stroke-width="1.5"/>
<rect x="151.6" y="591.5" width="8.3" height="43.7" fill="#a03442"/>
<rect x="151.6" y="591.5" width="0.8" height="43.7" fill="#93283a"/>
<rect x="159.1" y="591.5" width="0.8" height="43.7" fill="#93283a"/>
<path d="M139.5 576.7V573.5H154.5V576.7" stroke="#333" stroke-width="0.9" fill="none"/>
<circle cx="147.3" cy="569.8" r="1.05" fill="#3a3a3a"/>
<text transform="translate(110.5 602.5) rotate(-90)" font-size="8.5" fill="#222" color="#222" text-anchor="middle" textLength="43.2" lengthAdjust="spacingAndGlyphs">TAT (ng/mL)</text>
<text x="178" y="407.9" font-size="11.4" fill="#222" color="#222" style="stroke-width:0">G</text>
<text x="271.3" y="406.3" font-size="7.9" fill="#222" color="#222" textLength="37.5" lengthAdjust="spacingAndGlyphs">LDH (IU/L)</text>
<text x="338.1" y="405.9" font-size="7.9" fill="#222" color="#222" textLength="62.1" lengthAdjust="spacingAndGlyphs">D-dimer (ng/mL)</text>
<text x="430.6" y="405.3" font-size="7.9" fill="#222" color="#222" textLength="44.2" lengthAdjust="spacingAndGlyphs">PIC (µg/mL)</text>
<text x="344.4" y="491" font-size="7.9" fill="#222" color="#222" textLength="49.1" lengthAdjust="spacingAndGlyphs">Gas6 (ng/mL)</text>
<text x="345.2" y="668.2" font-size="7.9" fill="#222" color="#222" textLength="48.5" lengthAdjust="spacingAndGlyphs">Gas6 (ng/mL)</text>
<text x="191.2" y="435.6" font-size="7.3" fill="#222" color="#222" textLength="17.9" lengthAdjust="spacingAndGlyphs">Case 1</text>
<text x="191.2" y="449.2" font-size="7.3" fill="#222" color="#222" textLength="42.7" lengthAdjust="spacingAndGlyphs">Grade II aGVHD</text>
<text x="191.2" y="529.7" font-size="7.3" fill="#222" color="#222" textLength="17.9" lengthAdjust="spacingAndGlyphs">Case 2</text>
<text x="191.2" y="543.4" font-size="7.3" fill="#222" color="#222" textLength="44.2" lengthAdjust="spacingAndGlyphs">Grade III aGVHD</text>
<text x="191.2" y="619.3" font-size="7.3" fill="#222" color="#222" textLength="17.9" lengthAdjust="spacingAndGlyphs">Case 3</text>
<text x="191.2" y="633" font-size="7.3" fill="#222" color="#222" textLength="42.7" lengthAdjust="spacingAndGlyphs">Grade II aGVHD</text>
<text x="344.2" y="580.3" font-size="7.9" fill="#222" color="#222" textLength="49.6" lengthAdjust="spacingAndGlyphs">Gas6 (ng/mL)</text>
<line x1="266.5" y1="413.1" x2="266.5" y2="469.9" stroke="#1e1e1e" stroke-width="1.2"/>
<line x1="265.8" y1="466.5" x2="313.8" y2="466.5" stroke="#1e1e1e" stroke-width="1.2"/>
<line x1="263.4" y1="466.5" x2="266.4" y2="466.5" stroke="#1e1e1e" stroke-width="0.9"/>
<text x="260" y="469.05" font-size="6" fill="#222" color="#222" text-anchor="end">0</text>
<line x1="263.4" y1="451.5" x2="266.4" y2="451.5" stroke="#1e1e1e" stroke-width="0.9"/>
<text x="260" y="453.85" font-size="6" fill="#222" color="#222" text-anchor="end">200</text>
<line x1="263.4" y1="436.5" x2="266.4" y2="436.5" stroke="#1e1e1e" stroke-width="0.9"/>
<text x="260" y="438.45" font-size="6" fill="#222" color="#222" text-anchor="end">400</text>
<line x1="263.4" y1="420.5" x2="266.4" y2="420.5" stroke="#1e1e1e" stroke-width="0.9"/>
<text x="260" y="422.75" font-size="6" fill="#222" color="#222" text-anchor="end">600</text>
<line x1="266.5" y1="466.9" x2="266.5" y2="469.9" stroke="#1e1e1e" stroke-width="0.9"/>
<text x="266.4" y="479.05" font-size="6" fill="#222" color="#222" text-anchor="middle">0</text>
<line x1="281.5" y1="466.9" x2="281.5" y2="469.9" stroke="#1e1e1e" stroke-width="0.9"/>
<text x="281.5" y="479.05" font-size="6" fill="#222" color="#222" text-anchor="middle">500</text>
<line x1="296.5" y1="466.9" x2="296.5" y2="469.9" stroke="#1e1e1e" stroke-width="0.9"/>
<text x="296.6" y="479.05" font-size="6" fill="#222" color="#222" text-anchor="middle">1000</text>
<line x1="311.5" y1="466.9" x2="311.5" y2="469.9" stroke="#1e1e1e" stroke-width="0.9"/>
<text x="311.5" y="479.05" font-size="6" fill="#222" color="#222" text-anchor="middle">1500</text>
<line x1="290.8" y1="462.7" x2="304.9" y2="425" stroke="#1a1a1a" stroke-width="0.9"/>
<text x="271.2" y="424.4" font-size="6.2" fill="#2a2a2a">R<tspan font-size="4.6" dy="-2.6">2</tspan><tspan dy="2.6"> = 0.7366</tspan></text>
<circle cx="304.9" cy="416.5" r="1.45" fill="#a01b2c"/>
<circle cx="297.4" cy="448.4" r="1.45" fill="#a01b2c"/>
<circle cx="295.4" cy="450.7" r="1.45" fill="#a01b2c"/>
<circle cx="291.5" cy="454.2" r="1.45" fill="#a01b2c"/>
<circle cx="293.8" cy="455.8" r="1.45" fill="#a01b2c"/>
<circle cx="297.7" cy="458" r="1.45" fill="#a01b2c"/>
<circle cx="296.2" cy="457.3" r="1.45" fill="#a01b2c"/>
<line x1="346.5" y1="415.7" x2="346.5" y2="469.7" stroke="#1e1e1e" stroke-width="1.2"/>
<line x1="345.6" y1="466.5" x2="392.5" y2="466.5" stroke="#1e1e1e" stroke-width="1.2"/>
<line x1="343.2" y1="466.5" x2="346.2" y2="466.5" stroke="#1e1e1e" stroke-width="0.9"/>
<text x="340.4" y="468.85" font-size="6" fill="#222" color="#222" text-anchor="end">0</text>
<line x1="343.2" y1="454.5" x2="346.2" y2="454.5" stroke="#1e1e1e" stroke-width="0.9"/>
<text x="340.4" y="456.75" font-size="6" fill="#222" color="#222" text-anchor="end">1</text>
<line x1="343.2" y1="442.5" x2="346.2" y2="442.5" stroke="#1e1e1e" stroke-width="0.9"/>
<text x="340.4" y="444.85" font-size="6" fill="#222" color="#222" text-anchor="end">2</text>
<line x1="343.2" y1="430.5" x2="346.2" y2="430.5" stroke="#1e1e1e" stroke-width="0.9"/>
<text x="340.4" y="432.75" font-size="6" fill="#222" color="#222" text-anchor="end">3</text>
<line x1="343.2" y1="418.5" x2="346.2" y2="418.5" stroke="#1e1e1e" stroke-width="0.9"/>
<text x="340.4" y="420.95" font-size="6" fill="#222" color="#222" text-anchor="end">4</text>
<line x1="346.5" y1="466.7" x2="346.5" y2="469.7" stroke="#1e1e1e" stroke-width="0.9"/>
<text x="346.2" y="478.85" font-size="6" fill="#222" color="#222" text-anchor="middle">0</text>
<line x1="368.5" y1="466.7" x2="368.5" y2="469.7" stroke="#1e1e1e" stroke-width="0.9"/>
<text x="368.5" y="478.85" font-size="6" fill="#222" color="#222" text-anchor="middle">1000</text>
<line x1="390.5" y1="466.7" x2="390.5" y2="469.7" stroke="#1e1e1e" stroke-width="0.9"/>
<text x="390.6" y="478.85" font-size="6" fill="#222" color="#222" text-anchor="middle">2000</text>
<line x1="364.2" y1="453.7" x2="374.6" y2="425.8" stroke="#1a1a1a" stroke-width="0.9"/>
<text x="369.4" y="448.2" font-size="6.2" fill="#2a2a2a">R<tspan font-size="4.6" dy="-2.6">2</tspan><tspan dy="2.6"> = 0.5036</tspan></text>
<circle cx="373.8" cy="421.9" r="1.45" fill="#a01b2c"/>
<circle cx="366.9" cy="434" r="1.45" fill="#a01b2c"/>
<circle cx="368.5" cy="437.7" r="1.45" fill="#a01b2c"/>
<circle cx="366.9" cy="443.7" r="1.45" fill="#a01b2c"/>
<circle cx="363.8" cy="446.9" r="1.45" fill="#a01b2c"/>
<circle cx="365.6" cy="449.8" r="1.45" fill="#a01b2c"/>
<circle cx="369" cy="453.1" r="1.45" fill="#a01b2c"/>
<circle cx="366.9" cy="456.9" r="1.45" fill="#a01b2c"/>
<line x1="428.5" y1="415.2" x2="428.5" y2="469.7" stroke="#1e1e1e" stroke-width="1.2"/>
<line x1="427.5" y1="466.5" x2="477.7" y2="466.5" stroke="#1e1e1e" stroke-width="1.2"/>
<line x1="425.1" y1="466.5" x2="428.1" y2="466.5" stroke="#1e1e1e" stroke-width="0.9"/>
<text x="422.4" y="468.85" font-size="6" fill="#222" color="#222" text-anchor="end">0</text>
<line x1="425.1" y1="454.5" x2="428.1" y2="454.5" stroke="#1e1e1e" stroke-width="0.9"/>
<text x="422.4" y="456.75" font-size="6" fill="#222" color="#222" text-anchor="end">1</text>
<line x1="425.1" y1="442.5" x2="428.1" y2="442.5" stroke="#1e1e1e" stroke-width="0.9"/>
<text x="422.4" y="444.85" font-size="6" fill="#222" color="#222" text-anchor="end">2</text>
<line x1="425.1" y1="430.5" x2="428.1" y2="430.5" stroke="#1e1e1e" stroke-width="0.9"/>
<text x="422.4" y="432.75" font-size="6" fill="#222" color="#222" text-anchor="end">3</text>
<line x1="425.1" y1="418.5" x2="428.1" y2="418.5" stroke="#1e1e1e" stroke-width="0.9"/>
<text x="422.4" y="420.95" font-size="6" fill="#222" color="#222" text-anchor="end">4</text>
<line x1="428.5" y1="466.7" x2="428.5" y2="469.7" stroke="#1e1e1e" stroke-width="0.9"/>
<text x="428.1" y="478.85" font-size="6" fill="#222" color="#222" text-anchor="middle">0</text>
<line x1="451.5" y1="466.7" x2="451.5" y2="469.7" stroke="#1e1e1e" stroke-width="0.9"/>
<text x="451.7" y="478.85" font-size="6" fill="#222" color="#222" text-anchor="middle">1000</text>
<line x1="475.5" y1="466.7" x2="475.5" y2="469.7" stroke="#1e1e1e" stroke-width="0.9"/>
<text x="475.4" y="478.85" font-size="6" fill="#222" color="#222" text-anchor="middle">2000</text>
<line x1="447.3" y1="460.4" x2="458.1" y2="432.5" stroke="#1a1a1a" stroke-width="0.9"/>
<text x="440.8" y="426" font-size="6.2" fill="#2a2a2a">R<tspan font-size="4.6" dy="-2.6">2</tspan><tspan dy="2.6"> = 0.863</tspan></text>
<circle cx="458" cy="432.5" r="1.45" fill="#a01b2c"/>
<circle cx="452.3" cy="444" r="1.45" fill="#a01b2c"/>
<circle cx="450.6" cy="446.5" r="1.45" fill="#a01b2c"/>
<circle cx="449.8" cy="455.6" r="1.45" fill="#a01b2c"/>
<circle cx="448" cy="457.7" r="1.45" fill="#a01b2c"/>
<circle cx="450.4" cy="457.7" r="1.45" fill="#a01b2c"/>
<line x1="266.5" y1="500.7" x2="266.5" y2="558.8" stroke="#1e1e1e" stroke-width="1.2"/>
<line x1="266" y1="555.5" x2="313.5" y2="555.5" stroke="#1e1e1e" stroke-width="1.2"/>
<line x1="263.6" y1="555.5" x2="266.6" y2="555.5" stroke="#1e1e1e" stroke-width="0.9"/>
<text x="260.2" y="557.95" font-size="6" fill="#222" color="#222" text-anchor="end">0</text>
<line x1="263.6" y1="542.5" x2="266.6" y2="542.5" stroke="#1e1e1e" stroke-width="0.9"/>
<text x="260.2" y="544.95" font-size="6" fill="#222" color="#222" text-anchor="end">100</text>
<line x1="263.6" y1="529.5" x2="266.6" y2="529.5" stroke="#1e1e1e" stroke-width="0.9"/>
<text x="260.2" y="531.85" font-size="6" fill="#222" color="#222" text-anchor="end">200</text>
<line x1="263.6" y1="516.5" x2="266.6" y2="516.5" stroke="#1e1e1e" stroke-width="0.9"/>
<text x="260.2" y="518.65" font-size="6" fill="#222" color="#222" text-anchor="end">300</text>
<line x1="263.6" y1="503.5" x2="266.6" y2="503.5" stroke="#1e1e1e" stroke-width="0.9"/>
<text x="260.2" y="505.85" font-size="6" fill="#222" color="#222" text-anchor="end">400</text>
<line x1="266.5" y1="555.8" x2="266.5" y2="558.8" stroke="#1e1e1e" stroke-width="0.9"/>
<text x="266.6" y="567.95" font-size="6" fill="#222" color="#222" text-anchor="middle">0</text>
<line x1="280.5" y1="555.8" x2="280.5" y2="558.8" stroke="#1e1e1e" stroke-width="0.9"/>
<text x="280.7" y="567.95" font-size="6" fill="#222" color="#222" text-anchor="middle">30</text>
<line x1="295.5" y1="555.8" x2="295.5" y2="558.8" stroke="#1e1e1e" stroke-width="0.9"/>
<text x="295.1" y="567.95" font-size="6" fill="#222" color="#222" text-anchor="middle">60</text>
<line x1="309.5" y1="555.8" x2="309.5" y2="558.8" stroke="#1e1e1e" stroke-width="0.9"/>
<text x="309.2" y="567.95" font-size="6" fill="#222" color="#222" text-anchor="middle">90</text>
<line x1="270.9" y1="536.5" x2="313.5" y2="514.8" stroke="#1a1a1a" stroke-width="0.9"/>
<text x="275.3" y="549.7" font-size="6.2" fill="#2a2a2a">R<tspan font-size="4.6" dy="-2.6">2</tspan><tspan dy="2.6"> = 0.5826</tspan></text>
<circle cx="270.9" cy="516.3" r="1.45" fill="#a01b2c"/>
<circle cx="309.9" cy="509" r="1.45" fill="#a01b2c"/>
<circle cx="291.3" cy="522.9" r="1.45" fill="#a01b2c"/>
<circle cx="287" cy="538.5" r="1.45" fill="#a01b2c"/>
<circle cx="273.6" cy="539" r="1.45" fill="#a01b2c"/>
<circle cx="274.9" cy="540.8" r="1.45" fill="#a01b2c"/>
<line x1="346.5" y1="501.8" x2="346.5" y2="558.7" stroke="#1e1e1e" stroke-width="1.2"/>
<line x1="345.8" y1="555.5" x2="389.7" y2="555.5" stroke="#1e1e1e" stroke-width="1.2"/>
<line x1="343.4" y1="555.5" x2="346.4" y2="555.5" stroke="#1e1e1e" stroke-width="0.9"/>
<text x="340.6" y="557.85" font-size="6" fill="#222" color="#222" text-anchor="end">0</text>
<line x1="343.4" y1="545.5" x2="346.4" y2="545.5" stroke="#1e1e1e" stroke-width="0.9"/>
<text x="340.6" y="547.85" font-size="6" fill="#222" color="#222" text-anchor="end">1</text>
<line x1="343.4" y1="535.5" x2="346.4" y2="535.5" stroke="#1e1e1e" stroke-width="0.9"/>
<text x="340.6" y="537.65" font-size="6" fill="#222" color="#222" text-anchor="end">2</text>
<line x1="343.4" y1="525.5" x2="346.4" y2="525.5" stroke="#1e1e1e" stroke-width="0.9"/>
<text x="340.6" y="527.65" font-size="6" fill="#222" color="#222" text-anchor="end">3</text>
<line x1="343.4" y1="515.5" x2="346.4" y2="515.5" stroke="#1e1e1e" stroke-width="0.9"/>
<text x="340.6" y="517.25" font-size="6" fill="#222" color="#222" text-anchor="end">4</text>
<line x1="343.4" y1="504.5" x2="346.4" y2="504.5" stroke="#1e1e1e" stroke-width="0.9"/>
<text x="340.6" y="506.85" font-size="6" fill="#222" color="#222" text-anchor="end">5</text>
<line x1="346.5" y1="555.7" x2="346.5" y2="558.7" stroke="#1e1e1e" stroke-width="0.9"/>
<text x="346.4" y="567.85" font-size="6" fill="#222" color="#222" text-anchor="middle">0</text>
<line x1="358.5" y1="555.7" x2="358.5" y2="558.7" stroke="#1e1e1e" stroke-width="0.9"/>
<text x="358.9" y="567.85" font-size="6" fill="#222" color="#222" text-anchor="middle">30</text>
<line x1="371.5" y1="555.7" x2="371.5" y2="558.7" stroke="#1e1e1e" stroke-width="0.9"/>
<text x="371.5" y="567.85" font-size="6" fill="#222" color="#222" text-anchor="middle">60</text>
<line x1="385.5" y1="555.7" x2="385.5" y2="558.7" stroke="#1e1e1e" stroke-width="0.9"/>
<text x="385" y="567.85" font-size="6" fill="#222" color="#222" text-anchor="middle">90</text>
<line x1="349.4" y1="555.7" x2="388.8" y2="529.4" stroke="#1a1a1a" stroke-width="0.9"/>
<text x="358" y="519" font-size="6.2" fill="#2a2a2a">R<tspan font-size="4.6" dy="-2.6">2</tspan><tspan dy="2.6"> = 0.8929</tspan></text>
<circle cx="368.4" cy="532.7" r="1.45" fill="#a01b2c"/>
<circle cx="385" cy="532.9" r="1.45" fill="#a01b2c"/>
<circle cx="364.6" cy="540.2" r="1.45" fill="#a01b2c"/>
<circle cx="353.7" cy="555.2" r="1.45" fill="#a01b2c"/>
<line x1="428.5" y1="503.3" x2="428.5" y2="558.7" stroke="#1e1e1e" stroke-width="1.2"/>
<line x1="427.4" y1="555.5" x2="479.4" y2="555.5" stroke="#1e1e1e" stroke-width="1.2"/>
<line x1="425" y1="555.5" x2="428" y2="555.5" stroke="#1e1e1e" stroke-width="0.9"/>
<text x="422.2" y="557.85" font-size="6" fill="#222" color="#222" text-anchor="end">0</text>
<line x1="425" y1="545.5" x2="428" y2="545.5" stroke="#1e1e1e" stroke-width="0.9"/>
<text x="422.2" y="547.85" font-size="6" fill="#222" color="#222" text-anchor="end">1</text>
<line x1="425" y1="535.5" x2="428" y2="535.5" stroke="#1e1e1e" stroke-width="0.9"/>
<text x="422.2" y="537.95" font-size="6" fill="#222" color="#222" text-anchor="end">2</text>
<line x1="425" y1="526.5" x2="428" y2="526.5" stroke="#1e1e1e" stroke-width="0.9"/>
<text x="422.2" y="528.15" font-size="6" fill="#222" color="#222" text-anchor="end">3</text>
<line x1="425" y1="516.5" x2="428" y2="516.5" stroke="#1e1e1e" stroke-width="0.9"/>
<text x="422.2" y="518.15" font-size="6" fill="#222" color="#222" text-anchor="end">4</text>
<line x1="425" y1="506.5" x2="428" y2="506.5" stroke="#1e1e1e" stroke-width="0.9"/>
<text x="422.2" y="508.25" font-size="6" fill="#222" color="#222" text-anchor="end">5</text>
<line x1="428.5" y1="555.7" x2="428.5" y2="558.7" stroke="#1e1e1e" stroke-width="0.9"/>
<text x="428" y="567.85" font-size="6" fill="#222" color="#222" text-anchor="middle">0</text>
<line x1="443.5" y1="555.7" x2="443.5" y2="558.7" stroke="#1e1e1e" stroke-width="0.9"/>
<text x="443.5" y="567.85" font-size="6" fill="#222" color="#222" text-anchor="middle">30</text>
<line x1="459.5" y1="555.7" x2="459.5" y2="558.7" stroke="#1e1e1e" stroke-width="0.9"/>
<text x="459.6" y="567.85" font-size="6" fill="#222" color="#222" text-anchor="middle">60</text>
<line x1="475.5" y1="555.7" x2="475.5" y2="558.7" stroke="#1e1e1e" stroke-width="0.9"/>
<text x="475.6" y="567.85" font-size="6" fill="#222" color="#222" text-anchor="middle">90</text>
<line x1="443" y1="555.7" x2="460" y2="505.9" stroke="#1a1a1a" stroke-width="0.9"/>
<text x="452.7" y="546.7" font-size="6.2" fill="#2a2a2a">R<tspan font-size="4.6" dy="-2.6">2</tspan><tspan dy="2.6"> = 0.7966</tspan></text>
<circle cx="475.9" cy="529.4" r="1.45" fill="#a01b2c"/>
<circle cx="455.1" cy="534.5" r="1.45" fill="#a01b2c"/>
<circle cx="450.8" cy="538.4" r="1.45" fill="#a01b2c"/>
<circle cx="437.5" cy="544.8" r="1.45" fill="#a01b2c"/>
<circle cx="436.3" cy="549.2" r="1.45" fill="#a01b2c"/>
<line x1="266.5" y1="590.4" x2="266.5" y2="647.2" stroke="#1e1e1e" stroke-width="1.2"/>
<line x1="266" y1="644.5" x2="310.8" y2="644.5" stroke="#1e1e1e" stroke-width="1.2"/>
<line x1="263.6" y1="644.5" x2="266.6" y2="644.5" stroke="#1e1e1e" stroke-width="0.9"/>
<text x="260.2" y="646.35" font-size="6" fill="#222" color="#222" text-anchor="end">0</text>
<line x1="263.6" y1="631.5" x2="266.6" y2="631.5" stroke="#1e1e1e" stroke-width="0.9"/>
<text x="260.2" y="633.55" font-size="6" fill="#222" color="#222" text-anchor="end">100</text>
<line x1="263.6" y1="618.5" x2="266.6" y2="618.5" stroke="#1e1e1e" stroke-width="0.9"/>
<text x="260.2" y="620.75" font-size="6" fill="#222" color="#222" text-anchor="end">200</text>
<line x1="263.6" y1="606.5" x2="266.6" y2="606.5" stroke="#1e1e1e" stroke-width="0.9"/>
<text x="260.2" y="608.25" font-size="6" fill="#222" color="#222" text-anchor="end">300</text>
<line x1="263.6" y1="593.5" x2="266.6" y2="593.5" stroke="#1e1e1e" stroke-width="0.9"/>
<text x="260.2" y="595.45" font-size="6" fill="#222" color="#222" text-anchor="end">400</text>
<line x1="266.5" y1="644.2" x2="266.5" y2="647.2" stroke="#1e1e1e" stroke-width="0.9"/>
<text x="266.6" y="656.35" font-size="6" fill="#222" color="#222" text-anchor="middle">0</text>
<line x1="285.5" y1="644.2" x2="285.5" y2="647.2" stroke="#1e1e1e" stroke-width="0.9"/>
<text x="285.3" y="656.35" font-size="6" fill="#222" color="#222" text-anchor="middle">50</text>
<line x1="303.5" y1="644.2" x2="303.5" y2="647.2" stroke="#1e1e1e" stroke-width="0.9"/>
<text x="303.8" y="656.35" font-size="6" fill="#222" color="#222" text-anchor="middle">100</text>
<line x1="266.6" y1="624" x2="307.9" y2="600.5" stroke="#1a1a1a" stroke-width="0.9"/>
<text x="274.9" y="638.6" font-size="6.2" fill="#2a2a2a">R<tspan font-size="4.6" dy="-2.6">2</tspan><tspan dy="2.6"> = 0.4704</tspan></text>
<circle cx="306.5" cy="597.4" r="1.45" fill="#a01b2c"/>
<circle cx="294.4" cy="601.4" r="1.45" fill="#a01b2c"/>
<circle cx="275.3" cy="609.9" r="1.45" fill="#a01b2c"/>
<circle cx="271.5" cy="611.2" r="1.45" fill="#a01b2c"/>
<circle cx="281.2" cy="619" r="1.45" fill="#a01b2c"/>
<circle cx="271.3" cy="622" r="1.45" fill="#a01b2c"/>
<circle cx="287.4" cy="626.7" r="1.45" fill="#a01b2c"/>
<circle cx="265.7" cy="626.7" r="1.45" fill="#a01b2c"/>
<line x1="346.5" y1="592.1" x2="346.5" y2="647.4" stroke="#1e1e1e" stroke-width="1.2"/>
<line x1="345.8" y1="644.5" x2="393.5" y2="644.5" stroke="#1e1e1e" stroke-width="1.2"/>
<line x1="343.4" y1="644.5" x2="346.4" y2="644.5" stroke="#1e1e1e" stroke-width="0.9"/>
<text x="341.6" y="646.55" font-size="6" fill="#222" color="#222" text-anchor="end">0</text>
<line x1="343.4" y1="622.5" x2="346.4" y2="622.5" stroke="#1e1e1e" stroke-width="0.9"/>
<text x="341.6" y="624.55" font-size="6" fill="#222" color="#222" text-anchor="end">5</text>
<line x1="343.4" y1="599.5" x2="346.4" y2="599.5" stroke="#1e1e1e" stroke-width="0.9"/>
<text x="341.6" y="602.05" font-size="6" fill="#222" color="#222" text-anchor="end">10</text>
<line x1="346.5" y1="644.4" x2="346.5" y2="647.4" stroke="#1e1e1e" stroke-width="0.9"/>
<text x="346.4" y="656.55" font-size="6" fill="#222" color="#222" text-anchor="middle">0</text>
<line x1="366.5" y1="644.4" x2="366.5" y2="647.4" stroke="#1e1e1e" stroke-width="0.9"/>
<text x="366" y="656.55" font-size="6" fill="#222" color="#222" text-anchor="middle">50</text>
<line x1="385.5" y1="644.4" x2="385.5" y2="647.4" stroke="#1e1e1e" stroke-width="0.9"/>
<text x="385.7" y="656.55" font-size="6" fill="#222" color="#222" text-anchor="middle">100</text>
<line x1="352" y1="632.8" x2="389.2" y2="607.3" stroke="#1a1a1a" stroke-width="0.9"/>
<text x="349.4" y="605.9" font-size="6.2" fill="#2a2a2a">R<tspan font-size="4.6" dy="-2.6">2</tspan><tspan dy="2.6"> = 0.3739</tspan></text>
<circle cx="388.5" cy="594.7" r="1.45" fill="#a01b2c"/>
<circle cx="351.6" cy="623.6" r="1.45" fill="#a01b2c"/>
<circle cx="356" cy="624.1" r="1.45" fill="#a01b2c"/>
<circle cx="362.5" cy="625" r="1.45" fill="#a01b2c"/>
<circle cx="376.4" cy="621.9" r="1.45" fill="#a01b2c"/>
<circle cx="368.6" cy="640.9" r="1.45" fill="#a01b2c"/>
<line x1="427.5" y1="590" x2="427.5" y2="647.4" stroke="#1e1e1e" stroke-width="1.2"/>
<line x1="427" y1="644.5" x2="479.4" y2="644.5" stroke="#1e1e1e" stroke-width="1.2"/>
<line x1="424.6" y1="644.5" x2="427.6" y2="644.5" stroke="#1e1e1e" stroke-width="0.9"/>
<text x="422.2" y="646.55" font-size="6" fill="#222" color="#222" text-anchor="end">0</text>
<line x1="424.6" y1="627.5" x2="427.6" y2="627.5" stroke="#1e1e1e" stroke-width="0.9"/>
<text x="422.2" y="629.25" font-size="6" fill="#222" color="#222" text-anchor="end">2</text>
<line x1="424.6" y1="609.5" x2="427.6" y2="609.5" stroke="#1e1e1e" stroke-width="0.9"/>
<text x="422.2" y="611.95" font-size="6" fill="#222" color="#222" text-anchor="end">4</text>
<line x1="424.6" y1="592.5" x2="427.6" y2="592.5" stroke="#1e1e1e" stroke-width="0.9"/>
<text x="422.2" y="594.65" font-size="6" fill="#222" color="#222" text-anchor="end">6</text>
<line x1="427.5" y1="644.4" x2="427.5" y2="647.4" stroke="#1e1e1e" stroke-width="0.9"/>
<text x="427.6" y="656.55" font-size="6" fill="#222" color="#222" text-anchor="middle">0</text>
<line x1="449.5" y1="644.4" x2="449.5" y2="647.4" stroke="#1e1e1e" stroke-width="0.9"/>
<text x="449.6" y="656.55" font-size="6" fill="#222" color="#222" text-anchor="middle">50</text>
<line x1="471.5" y1="644.4" x2="471.5" y2="647.4" stroke="#1e1e1e" stroke-width="0.9"/>
<text x="471.2" y="656.55" font-size="6" fill="#222" color="#222" text-anchor="middle">100</text>
<line x1="428" y1="639.7" x2="475.9" y2="609.8" stroke="#1a1a1a" stroke-width="0.9"/>
<text x="434.9" y="600.4" font-size="6.2" fill="#2a2a2a">R<tspan font-size="4.6" dy="-2.6">2</tspan><tspan dy="2.6"> = 0.6324</tspan></text>
<circle cx="475.2" cy="601.3" r="1.45" fill="#a01b2c"/>
<circle cx="438.9" cy="621.2" r="1.45" fill="#a01b2c"/>
<circle cx="446.1" cy="627.1" r="1.45" fill="#a01b2c"/>
<circle cx="461.4" cy="625" r="1.45" fill="#a01b2c"/>
<circle cx="452.7" cy="631.6" r="1.45" fill="#a01b2c"/>
<circle cx="427.5" cy="638.8" r="1.45" fill="#a01b2c"/>
<rect x="0" y="0" width="520" height="1.3" fill="#4a4a4a"/>
<rect x="0" y="0" width="1.5" height="679" fill="#4a4a4a"/>
<rect x="518.8" y="0" width="1.2" height="679" fill="#111"/>
<rect x="0" y="677.1" width="520" height="1.9" fill="#5a5a5a"/>
</svg></body></html>
